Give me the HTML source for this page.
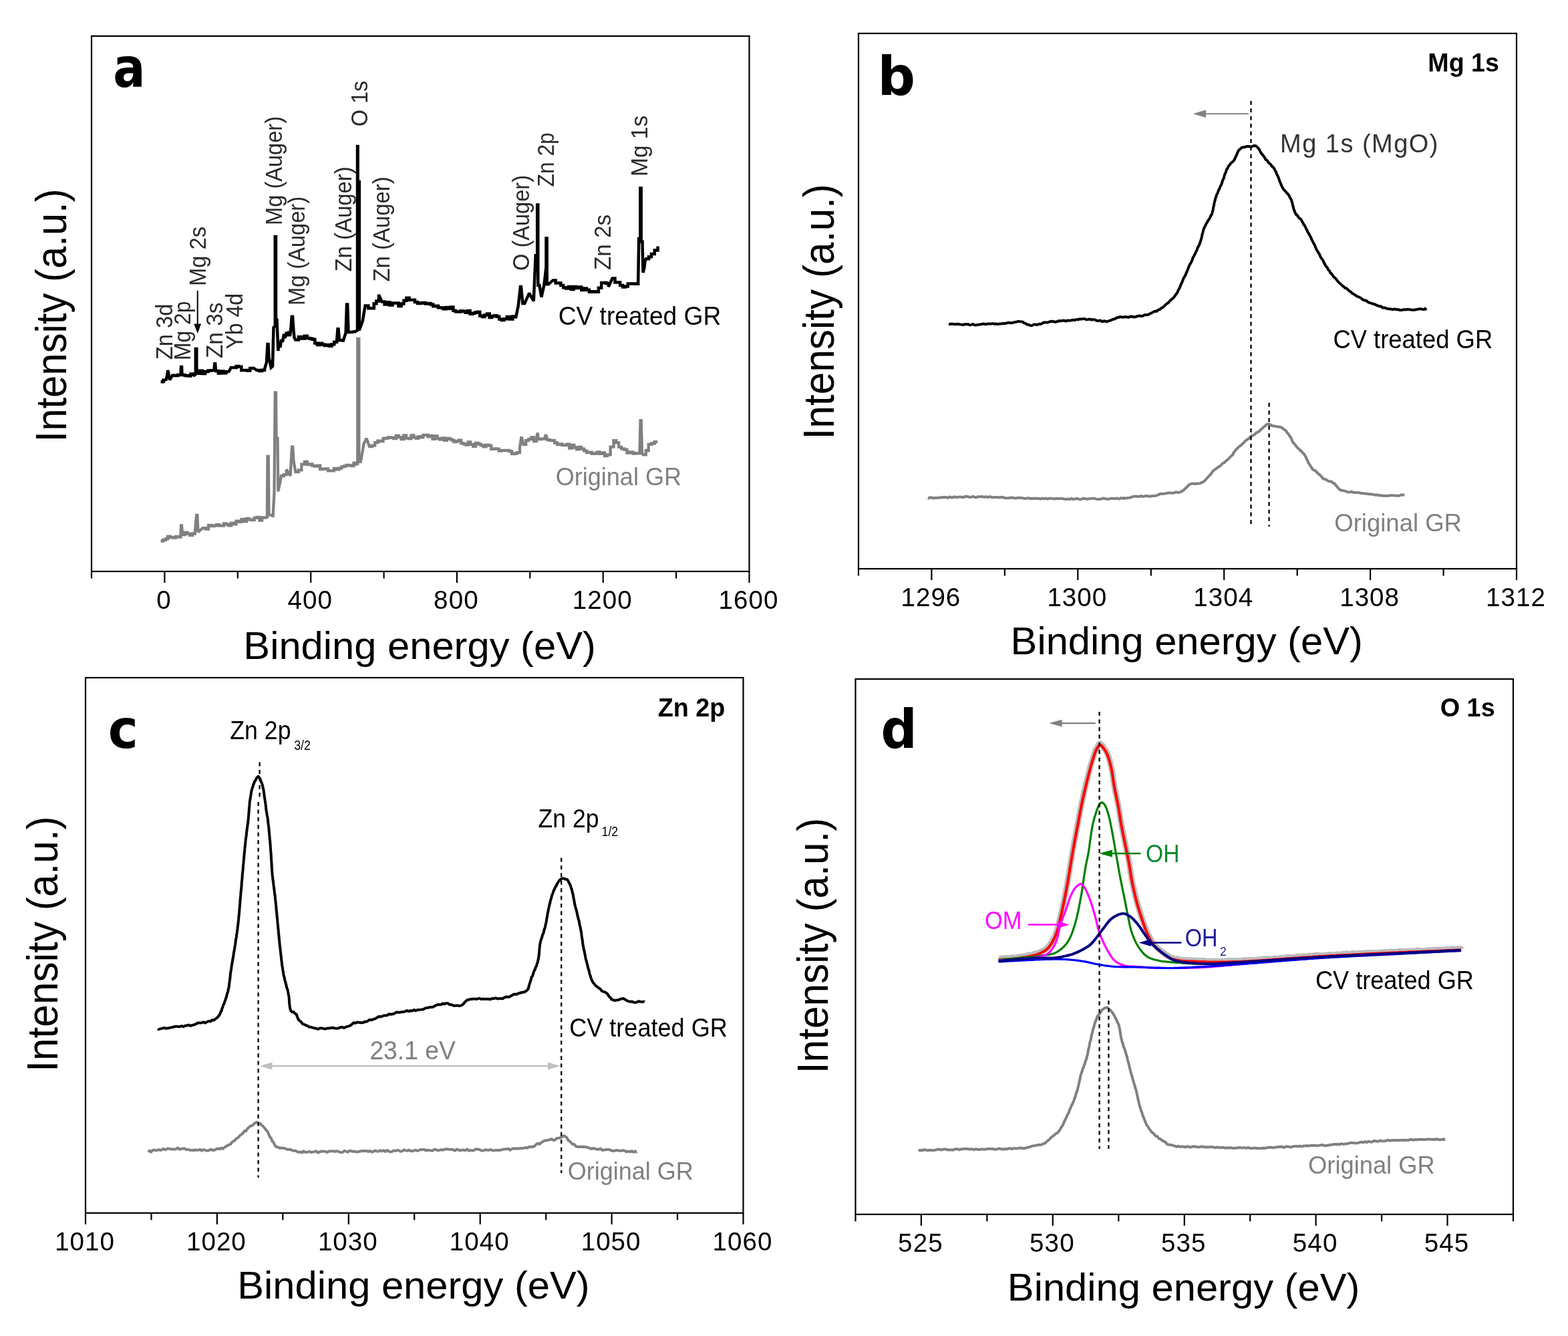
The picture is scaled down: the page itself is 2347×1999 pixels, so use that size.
<!DOCTYPE html>
<html><head><meta charset="utf-8"><title>XPS spectra</title>
<style>html,body{margin:0;padding:0;background:#fff;overflow:hidden;} svg{display:block;} text{font-family:'Liberation Sans', Arial, sans-serif;}</style>
</head><body>
<svg width="2347" height="1999" viewBox="0 0 2347 1999">
<rect width="2347" height="1999" fill="#fff"/>
<rect x="137" y="54" width="984.5" height="801" fill="none" stroke="#000" stroke-width="2.2"/>
<line x1="246.4" y1="855" x2="246.4" y2="872" stroke="#000" stroke-width="2.2" />
<line x1="465.2" y1="855" x2="465.2" y2="872" stroke="#000" stroke-width="2.2" />
<line x1="683.9" y1="855" x2="683.9" y2="872" stroke="#000" stroke-width="2.2" />
<line x1="902.7" y1="855" x2="902.7" y2="872" stroke="#000" stroke-width="2.2" />
<line x1="1121.5" y1="855" x2="1121.5" y2="872" stroke="#000" stroke-width="2.2" />
<line x1="137" y1="855" x2="137" y2="865.5" stroke="#000" stroke-width="2.2" />
<line x1="355.8" y1="855" x2="355.8" y2="865.5" stroke="#000" stroke-width="2.2" />
<line x1="574.6" y1="855" x2="574.6" y2="865.5" stroke="#000" stroke-width="2.2" />
<line x1="793.3" y1="855" x2="793.3" y2="865.5" stroke="#000" stroke-width="2.2" />
<line x1="1012.1" y1="855" x2="1012.1" y2="865.5" stroke="#000" stroke-width="2.2" />
<text x="244.9" y="910.5" font-size="38.6" fill="#000" text-anchor="middle" font-weight="normal" >0</text>
<text x="463.7" y="910.5" font-size="38.6" fill="#000" text-anchor="middle" font-weight="normal" textLength="66.6" lengthAdjust="spacing" >400</text>
<text x="682.4" y="910.5" font-size="38.6" fill="#000" text-anchor="middle" font-weight="normal" textLength="66.6" lengthAdjust="spacing" >800</text>
<text x="901.2" y="910.5" font-size="38.6" fill="#000" text-anchor="middle" font-weight="normal" textLength="88.8" lengthAdjust="spacing" >1200</text>
<text x="1120" y="910.5" font-size="38.6" fill="#000" text-anchor="middle" font-weight="normal" textLength="88.8" lengthAdjust="spacing" >1600</text>
<text x="628.1" y="985.7" font-size="58.2" fill="#000" text-anchor="middle" font-weight="normal" textLength="527.5" lengthAdjust="spacingAndGlyphs" >Binding energy (eV)</text>
<text x="99.5" y="471.9" font-size="64.5" fill="#000" text-anchor="middle" font-weight="normal" transform="rotate(-90 99.5 471.9)" textLength="379" lengthAdjust="spacingAndGlyphs" >Intensity (a.u.)</text>
<text transform="translate(169.2 130.1) scale(0.883 1)" x="0" y="0" font-size="81" font-weight="bold" style="font-family:'DejaVu Sans',sans-serif">a</text>
<polyline points="240.6,571.3 244.4,571.3 244.4,568.7 248.3,568.7 248.3,569.4 250.5,560 251.2,553.9 252.5,560 254.1,568.4 258,561.7 262.2,561.7 262.2,562 266.3,562 266.3,560.9 270.5,560.9 270.5,561.7 271,549.1 272,549.1 272.5,561 276.8,561 276.8,562.1 281.1,562.1 281.1,562.6 285.5,562.6 285.5,559.4 289.8,559.4 289.8,562.6 292.8,560 292.8,522 294.3,522 294.3,558.8 298.6,558.8 298.6,554.7 302.9,554.7 302.9,559 307.2,559 307.2,555.9 311.6,555.9 311.6,554.4 316.1,554.4 316.1,554.3 320.5,554.3 320.5,556 321.2,544.3 322.2,544.3 323,555 326.8,555 326.8,558.5 330.6,558.5 330.6,555.5 334.4,555.5 334.4,558.2 338.2,558.2 338.2,556.3 342,556.3 342,556.8 345.8,550 349.7,550 349.7,549.9 353.6,549.9 353.6,548.1 357.5,548.1 357.5,548.8 361.3,548.8 361.3,554 365.6,554 365.6,553.9 370,553.9 370,554.4 374.3,554.4 374.3,551.1 378.6,551.1 378.6,550 384.4,554 388.3,554 388.3,554.9 392.1,554.9 392.1,553.8 396,553.8 396,552 399,542.4 400.5,515 401.5,515 402.5,535 405.7,550 408,548 409.5,490 411.8,488 411.8,354.1 413,354.1 413,476.7 414.5,478 416.3,525 418,512 419.5,520 421,508 423,511.5 425,500 426.5,506 428.8,497 430.5,503 432,496 434,503 435.5,490 436.8,473.8 438,473.8 439.5,495 440.5,505 442.4,508.6 446.9,508.6 446.9,503.9 451.4,503.9 451.4,506.4 455.9,506.4 455.9,502.8 459.8,502.8 459.8,506 463.6,506 463.6,506.8 467.4,506.8 467.4,507.7 471.3,507.7 471.3,513.4 474.9,513.4 474.9,516 478.5,516 478.5,513.8 482.1,513.8 482.1,515.6 485.6,515.6 485.6,516.9 489.2,516.9 489.2,516.1 492.8,516.1 492.8,517.7 496.4,517.7 496.4,515.3 500.2,515.3 500.2,511.7 504.1,511.7 504.1,509.5 505.5,492.2 506.5,492.2 508,509 513.8,509.5 517.6,498 519,455.5 520.2,455.5 521.5,497 525.4,497 532,496 535,494 535,219 535.6,219 535.6,272 537.8,272 537.8,494 542.7,480.6 546.6,457.4 551.4,457.4 551.4,461.3 556.2,461.3 556.2,461.3 559.8,461.3 559.8,454.2 563.3,454.2 563.3,450.6 566.9,450.6 566.9,441 571.7,451.6 575.6,451.6 575.6,455.6 579.4,455.6 579.4,452.2 583.3,452.2 583.3,456.4 587.6,456.4 587.6,453.6 592,453.6 592,453.6 596.4,453.6 596.4,458 600.7,458 600.7,454.5 604.5,454.5 604.5,449.7 608.4,449.7 608.4,445.8 612.6,445.8 612.6,448.7 616.8,448.7 616.8,448.7 620.9,448.7 620.9,452.1 625.1,452.1 625.1,454.1 629,454.1 629,453.4 632.8,453.4 632.8,453.1 636.6,453.1 636.6,454.6 640.5,454.6 640.5,454.1 644.4,454.1 644.4,455.5 648.2,455.5 648.2,458.3 652.1,458.3 652.1,457.8 656,457.8 656,460.2 659.9,460.2 659.9,460.5 663.7,460.5 663.7,462.2 667.6,462.2 667.6,459.9 671.2,459.9 671.2,461.8 674.8,461.8 674.8,459.4 678.4,459.4 678.4,464.7 681.9,464.7 681.9,466.2 685.5,466.2 685.5,466.6 689.1,466.6 689.1,465.3 692.7,465.3 692.7,465.7 696.3,465.7 696.3,467.7 700,467.7 700,465.1 703.6,465.1 703.6,469.8 707.3,469.8 707.3,468.7 710.9,468.7 710.9,467.5 714.6,467.5 714.6,466.8 718.2,466.8 718.2,472.5 721.9,472.5 721.9,474 725.5,474 725.5,471.5 729.1,471.5 729.1,469.6 732.7,469.6 732.7,474.9 736.3,474.9 736.3,473.1 740,473.1 740,472.2 743.6,472.2 743.6,473.8 747.2,473.8 747.2,477.6 750.8,477.6 750.8,479 754.4,479 754.4,477.3 758.8,477.3 758.8,474.1 763.1,474.1 763.1,477.5 767.4,477.5 767.4,473.6 771.8,473.6 771.8,476.3 775.7,458 779,429 780,429 782.4,454.1 785.3,454.1 792.1,438.7 798.8,450.3 801.7,381.7 804.2,381 804.2,306.4 805.3,306.4 805.3,427.1 807.5,427.1 810.4,444.5 814.3,427.1 817.5,400 817.5,356.6 818.7,356.6 818.7,425.2 821,425.2 827.8,419.4 831.7,419.4 831.7,423.4 835.5,423.4 835.5,423.5 839.4,423.5 839.4,427.1 843.2,427.1 843.2,430.2 847.1,430.2 847.1,431.5 851,431.5 851,429.1 854.8,429.1 854.8,432.9 858.6,432.9 858.6,429.1 862.5,429.1 862.5,431 866.4,431 866.4,429.5 870.3,429.5 870.3,434 874.1,434 874.1,431.5 878,431.5 878,433.7 881.9,433.7 881.9,436.8 886.7,436.8 886.7,436.2 891.5,436.2 891.5,436.8 895.9,436.8 895.9,430.7 900.2,430.7 900.2,423.2 903.7,423.2 903.7,422.9 907.3,422.9 907.3,424.1 910.8,424.1 910.8,429 916.6,416.5 920.5,416.5 920.5,422.4 924.3,422.4 924.3,422.4 928.2,422.4 928.2,427.1 932.1,427.1 932.1,429.5 935.9,429.5 935.9,428.5 939.8,428.5 939.8,424.6 943.6,424.6 943.6,424.6 947.5,424.6 947.5,424.4 951.3,424.4 951.3,424.7 955.2,424.7 955.2,423.2 956.2,357 958.4,357 958.4,281.4 959.7,281.4 959.7,361.5 961.5,361.5 962.5,408 964.5,400 965.5,390 967.2,387.2 971.1,387.2 971.1,384.2 975,384.2 975,380 979.8,380 979.8,374.6 984.6,374.6 984.6,368.5" fill="none" stroke="#000" stroke-width="4.5" stroke-linejoin="miter" stroke-miterlimit="2" stroke-linecap="butt" />
<polyline points="240.6,809.5 244.1,809.5 244.1,808 247.7,808 247.7,806.4 251.2,806.4 251.2,802.7 255.1,802.7 255.1,804.1 258.9,804.1 258.9,804.6 262.8,804.6 262.8,803 266.6,803 266.6,803.7 270.5,803.7 270.5,800.8 271,786.3 272,786.3 273,800 276.8,800 276.8,796.6 280.5,796.6 280.5,798.6 284.3,798.6 284.3,800.9 288,800.9 288,798.5 291.8,798.5 291.8,797 294.2,770.9 295.3,770.9 296.5,796 303.4,790.2 307.7,790.2 307.7,791.6 312,791.6 312,785.9 316.4,785.9 316.4,787.1 320.7,787.1 320.7,786.3 324.2,786.3 324.2,784.8 327.8,784.8 327.8,786.6 331.4,786.6 331.4,786.7 334.9,786.7 334.9,783.4 338.4,783.4 338.4,784.6 342,784.6 342,786.3 345.9,786.3 345.9,782.7 349.7,782.7 349.7,784.3 353.6,784.3 353.6,779.6 357.5,779.6 357.5,780.8 361.3,780.8 361.3,776.8 365.2,776.8 365.2,780.2 369,780.2 369,775.8 372.9,775.8 372.9,777.6 376.8,777.6 376.8,778 380.6,778 380.6,774.8 384.5,774.8 384.5,773.8 388.3,773.8 388.3,778.7 392.2,778.7 392.2,774.5 396,774.5 396,774.3 399.9,774.3 399.9,775.7 400.5,683 401.7,683 402.5,770 408.6,771.9 410.5,737.1 411.8,587.5 413,587.5 413.5,656 415.5,656 416.3,735.2 421.1,712 425,712 425,710.1 428.8,710.1 428.8,702.4 434.6,712 437,668.6 438.2,668.6 439.5,690 442.4,706.2 446.9,706.2 446.9,703.3 451.4,703.3 451.4,694.7 455.9,694.7 455.9,690.8 459.8,690.8 459.8,695.2 463.6,695.2 463.6,694.4 467.4,694.4 467.4,696.9 471.3,696.9 471.3,697.5 475.2,697.5 475.2,696.7 479.1,696.7 479.1,702.1 482.9,702.1 482.9,701.6 486.8,701.6 486.8,701.4 491.1,701.4 491.1,704.4 495.5,704.4 495.5,704.3 499.8,704.3 499.8,700.9 504.1,700.9 504.1,702.4 507.7,702.4 507.7,700.6 511.3,700.6 511.3,698.4 514.9,698.4 514.9,697.3 518.5,697.3 518.5,695.9 522.2,695.9 522.2,696.3 525.8,696.3 525.8,697.2 529.4,697.2 529.4,692.6 533,692.6 533,694.6 535.3,694 535.3,507 537.3,507 537.3,690.8 539.8,690.8 544.7,663.7 548.5,656 553,668 557.1,668 557.1,666.7 561.2,666.7 561.2,662.2 565.4,662.2 565.4,659.7 569.5,659.7 569.5,660.3 573.6,660.3 573.6,656 577.5,656 577.5,655.6 581.3,655.6 581.3,654.3 585.2,654.3 585.2,654.9 589.1,654.9 589.1,656 592.9,656 592.9,651.8 596.8,651.8 596.8,654.1 600.5,654.1 600.5,657 604.3,657 604.3,651.3 608,651.3 608,655.7 611.8,655.7 611.8,656.3 615.5,656.3 615.5,651.4 619.3,651.4 619.3,654.3 622.8,654.3 622.8,655.9 626.4,655.9 626.4,653.2 629.9,653.2 629.9,654.3 633.4,654.3 633.4,650.8 637,650.8 637,650.8 640.5,650.8 640.5,653.4 644,653.4 644,651.8 647.6,651.8 647.6,656.8 651.1,656.8 651.1,652.5 654.7,652.5 654.7,656.2 658.2,656.2 658.2,657.6 661.8,657.6 661.8,655.3 665.3,655.3 665.3,658.8 668.9,658.8 668.9,656 672.4,656 672.4,656.8 675.9,656.8 675.9,658.6 679.5,658.6 679.5,661 683,661 683,660.1 686.5,660.1 686.5,658.6 690.1,658.6 690.1,663.2 693.6,663.2 693.6,664.3 697.1,664.3 697.1,665.5 700.7,665.5 700.7,661.4 704.2,661.4 704.2,665 708.1,665 708.1,667.8 711.9,667.8 711.9,662.8 715.8,662.8 715.8,664.5 719.7,664.5 719.7,666.3 723.5,666.3 723.5,668.3 727.4,668.3 727.4,665.9 731.3,665.9 731.3,666.7 735.1,666.7 735.1,671.9 739,671.9 739,671.4 742.8,671.4 742.8,671.7 746.7,671.7 746.7,674.6 750.6,674.6 750.6,674.2 754.4,674.2 754.4,674 758.3,674 758.3,674 762.2,674 762.2,675.1 766,675.1 766,679 769.9,679 769.9,678.5 774,678.5 774,677.2 778,677.2 778,670 780.5,653.4 783.4,665 787.2,665 787.2,659.1 791.1,659.1 791.1,657.2 795.1,657.2 795.1,654.4 799,654.4 799,660 803,660 803,657 804.6,647.6 806,657 810.5,657 810.5,656.7 815,656.7 815,656 817.2,650.3 819,658 822.7,658 822.7,658.8 826.4,658.8 826.4,659.1 830.1,659.1 830.1,662.5 833.9,662.5 833.9,665.2 837.6,665.2 837.6,664.3 841.3,664.3 841.3,665.9 844.9,665.9 844.9,666.2 848.5,666.2 848.5,664.7 852.2,664.7 852.2,670.6 855.8,670.6 855.8,666 859.4,666 859.4,669.5 863,669.5 863,672.3 866.7,672.3 866.7,668.8 870.3,668.8 870.3,671.7 874.2,671.7 874.2,674.4 878,674.4 878,677.1 881.9,677.1 881.9,676.6 885.7,676.6 885.7,678.9 889.6,678.9 889.6,678.5 893.5,678.5 893.5,676.5 897.3,676.5 897.3,678.9 901.2,678.9 901.2,677.5 905,677.5 905,682.1 908.9,682.1 908.9,680.4 913.7,680.4 913.7,668.6 918.5,668.6 918.5,659.2 922.4,659.2 922.4,662.3 926.2,662.3 926.2,668.9 930.1,668.9 930.1,671.4 934,671.4 934,672.7 938.5,672.7 938.5,677.5 943,677.5 943,676.3 947.5,676.3 947.5,678.5 952.5,678.5 952.5,678.2 957.5,678.2 957.5,678 958.6,629.2 959.7,629.2 961,679 962.9,680.4 966.8,680.4 966.8,674 970.7,674 970.7,664.9 975.2,664.9 975.2,663.5 979.7,663.5 979.7,661.1 984.2,661.1 984.2,661.1" fill="none" stroke="#808080" stroke-width="4.3" stroke-linejoin="miter" stroke-miterlimit="2" stroke-linecap="butt" />
<text x="835.7" y="486.1" font-size="39" fill="#000" text-anchor="start" font-weight="normal" textLength="243.6" lengthAdjust="spacingAndGlyphs" >CV treated GR</text>
<text x="831.7" y="725.8" font-size="37.4" fill="#808080" text-anchor="start" font-weight="normal" textLength="188.3" lengthAdjust="spacingAndGlyphs" >Original GR</text>
<text x="258.3" y="538.2" font-size="34.7" fill="#2a2a2a" text-anchor="start" font-weight="normal" transform="rotate(-90 258.3 538.2)" textLength="83.6" lengthAdjust="spacingAndGlyphs" >Zn 3d</text>
<text x="285.5" y="538.9" font-size="34.7" fill="#2a2a2a" text-anchor="start" font-weight="normal" transform="rotate(-90 285.5 538.9)" textLength="88.4" lengthAdjust="spacingAndGlyphs" >Mg 2p</text>
<text x="307.9" y="428" font-size="34.7" fill="#2a2a2a" text-anchor="start" font-weight="normal" transform="rotate(-90 307.9 428)" textLength="89" lengthAdjust="spacingAndGlyphs" >Mg 2s</text>
<text x="333" y="536.1" font-size="34.7" fill="#2a2a2a" text-anchor="start" font-weight="normal" transform="rotate(-90 333 536.1)" textLength="83.6" lengthAdjust="spacingAndGlyphs" >Zn 3s</text>
<text x="363" y="522.6" font-size="34.7" fill="#2a2a2a" text-anchor="start" font-weight="normal" transform="rotate(-90 363 522.6)" textLength="83.6" lengthAdjust="spacingAndGlyphs" >Yb 4d</text>
<text x="421.7" y="336.9" font-size="34.7" fill="#2a2a2a" text-anchor="start" font-weight="normal" transform="rotate(-90 421.7 336.9)" textLength="163" lengthAdjust="spacingAndGlyphs" >Mg (Auger)</text>
<text x="455.5" y="457" font-size="34.7" fill="#2a2a2a" text-anchor="start" font-weight="normal" transform="rotate(-90 455.5 457)" textLength="163" lengthAdjust="spacingAndGlyphs" >Mg (Auger)</text>
<text x="526" y="406.5" font-size="34.7" fill="#2a2a2a" text-anchor="start" font-weight="normal" transform="rotate(-90 526 406.5)" textLength="157.3" lengthAdjust="spacingAndGlyphs" >Zn (Auger)</text>
<text x="583" y="421.6" font-size="34.7" fill="#2a2a2a" text-anchor="start" font-weight="normal" transform="rotate(-90 583 421.6)" textLength="157.3" lengthAdjust="spacingAndGlyphs" >Zn (Auger)</text>
<text x="550.5" y="189.2" font-size="34.7" fill="#2a2a2a" text-anchor="start" font-weight="normal" transform="rotate(-90 550.5 189.2)" textLength="68.5" lengthAdjust="spacingAndGlyphs" >O 1s</text>
<text x="792.1" y="404.9" font-size="34.7" fill="#2a2a2a" text-anchor="start" font-weight="normal" transform="rotate(-90 792.1 404.9)" textLength="142.9" lengthAdjust="spacingAndGlyphs" >O (Auger)</text>
<text x="828.8" y="279.4" font-size="34.7" fill="#2a2a2a" text-anchor="start" font-weight="normal" transform="rotate(-90 828.8 279.4)" textLength="81.1" lengthAdjust="spacingAndGlyphs" >Zn 2p</text>
<text x="913.7" y="403.9" font-size="34.7" fill="#2a2a2a" text-anchor="start" font-weight="normal" transform="rotate(-90 913.7 403.9)" textLength="83" lengthAdjust="spacingAndGlyphs" >Zn 2s</text>
<text x="968.7" y="264" font-size="34.7" fill="#2a2a2a" text-anchor="start" font-weight="normal" transform="rotate(-90 968.7 264)" textLength="91.2" lengthAdjust="spacingAndGlyphs" >Mg 1s</text>
<line x1="295.7" y1="434.9" x2="295.7" y2="490" stroke="#000" stroke-width="2" />
<polygon points="290.3,484.5 301.1,484.5 295.7,499" fill="#000"/>
<rect x="1285" y="50" width="985" height="801" fill="none" stroke="#000" stroke-width="2.2"/>
<line x1="1394.4" y1="851" x2="1394.4" y2="868" stroke="#000" stroke-width="2.2" />
<line x1="1613.3" y1="851" x2="1613.3" y2="868" stroke="#000" stroke-width="2.2" />
<line x1="1832.2" y1="851" x2="1832.2" y2="868" stroke="#000" stroke-width="2.2" />
<line x1="2051.1" y1="851" x2="2051.1" y2="868" stroke="#000" stroke-width="2.2" />
<line x1="2270" y1="851" x2="2270" y2="868" stroke="#000" stroke-width="2.2" />
<line x1="1285" y1="851" x2="1285" y2="861.5" stroke="#000" stroke-width="2.2" />
<line x1="1503.9" y1="851" x2="1503.9" y2="861.5" stroke="#000" stroke-width="2.2" />
<line x1="1722.8" y1="851" x2="1722.8" y2="861.5" stroke="#000" stroke-width="2.2" />
<line x1="1941.7" y1="851" x2="1941.7" y2="861.5" stroke="#000" stroke-width="2.2" />
<line x1="2160.6" y1="851" x2="2160.6" y2="861.5" stroke="#000" stroke-width="2.2" />
<text x="1392.9" y="906.5" font-size="38.6" fill="#000" text-anchor="middle" font-weight="normal" textLength="88.8" lengthAdjust="spacing" >1296</text>
<text x="1611.8" y="906.5" font-size="38.6" fill="#000" text-anchor="middle" font-weight="normal" textLength="88.8" lengthAdjust="spacing" >1300</text>
<text x="1830.7" y="906.5" font-size="38.6" fill="#000" text-anchor="middle" font-weight="normal" textLength="88.8" lengthAdjust="spacing" >1304</text>
<text x="2049.6" y="906.5" font-size="38.6" fill="#000" text-anchor="middle" font-weight="normal" textLength="88.8" lengthAdjust="spacing" >1308</text>
<text x="2268.5" y="906.5" font-size="38.6" fill="#000" text-anchor="middle" font-weight="normal" textLength="88.8" lengthAdjust="spacing" >1312</text>
<text x="1776.2" y="978.8" font-size="58.2" fill="#000" text-anchor="middle" font-weight="normal" textLength="527.2" lengthAdjust="spacingAndGlyphs" >Binding energy (eV)</text>
<text x="1248.3" y="466.3" font-size="64.5" fill="#000" text-anchor="middle" font-weight="normal" transform="rotate(-90 1248.3 466.3)" textLength="382.2" lengthAdjust="spacingAndGlyphs" >Intensity (a.u.)</text>
<text transform="translate(1313.5 141.7) scale(0.976 1)" x="0" y="0" font-size="81" font-weight="bold" style="font-family:'DejaVu Sans',sans-serif">b</text>
<text x="2244" y="107.4" font-size="38" fill="#000" text-anchor="end" font-weight="bold" textLength="106.7" lengthAdjust="spacingAndGlyphs" >Mg 1s</text>
<polyline points="1420.2,484.2 1420.7,484.4 1422.2,485.2 1424.3,484.6 1427.1,484.9 1430.2,485.3 1433.6,484.8 1437,485.5 1440.3,485.8 1442.2,486.1 1444.3,485 1446.5,485.4 1448.8,485 1451.2,486.2 1453.7,486 1456.3,484.9 1459,486.4 1461.6,486.3 1464.4,485.7 1467.1,485.6 1469.9,484.8 1472.7,484.5 1475.5,485.3 1478.2,484.4 1481,484.6 1483.6,484.6 1486.3,484.1 1488.8,484.7 1491.3,484.6 1493.7,485.1 1495.9,484.5 1498.1,484.5 1501.2,484.1 1504.2,484 1507.2,483.3 1510,482.6 1512.8,483.3 1515.5,482.9 1518.1,482.3 1520.7,481.8 1523.1,481.1 1525.4,480.9 1527.7,481.2 1530.4,481.4 1532.9,483.4 1535.2,483.9 1537.4,485.7 1539.8,485.8 1542.5,487.2 1544.8,487.1 1547.2,485.6 1549.7,485.5 1552.3,486.1 1555,484.8 1557.7,485 1560.5,483.4 1563.2,482.3 1566,482.6 1568.7,482.4 1571.3,481.3 1574,480.8 1576.6,481 1579.3,481.8 1582,481.3 1584.7,480.1 1587.5,480.2 1590.2,479.8 1592.9,479.6 1595.5,480.6 1598.2,479.4 1600.8,479.8 1603.3,479.3 1605.8,478.6 1608.3,479.2 1610.8,477.9 1613.3,478.4 1615.8,477.3 1618.3,477.6 1620.9,477.1 1623.5,477.1 1626.1,478.2 1628.6,478 1631.1,477.4 1633.8,478.6 1636.4,477.9 1639.1,478.7 1641.8,479.9 1644.5,480 1647.1,479.5 1649.7,481.3 1652.2,480.3 1654.6,480.5 1656.9,481.3 1659,480.4 1661.7,479.8 1664.1,478.6 1666.4,477.6 1668.7,477.3 1670.9,475.6 1673.1,475.3 1675.4,474.3 1678.1,474.1 1680.8,474.8 1683.6,474.1 1686.3,474.3 1689.1,474.9 1691.8,473.7 1694.5,473.5 1697.3,474.5 1700,474.1 1702.8,472.9 1705.5,472.5 1708.2,472.9 1710.9,472.7 1713.6,470.9 1716.3,471.4 1718.9,470.6 1721.5,469.3 1724.1,468.1 1726.6,466.6 1729,465.5 1731.4,465.9 1733.7,463.6 1736.1,463 1738.6,460.6 1740.5,460.1 1742.5,458.2 1744.6,456.1 1746.7,454.1 1748.8,453.1 1750.9,450.2 1753,448.4 1755,446.9 1756.9,445.2 1758.7,442.7 1760.3,440 1761.7,439 1763,435.7 1764.2,433.1 1765.4,431.2 1766.4,429.2 1767.4,426.2 1768.4,424.1 1769.4,422 1770.3,419.9 1771.3,416.9 1772.4,414.9 1773.5,413.3 1774.6,411.1 1775.7,408.2 1776.8,405.8 1777.9,403.2 1779,400.1 1780.1,397.5 1781.2,395.1 1782.3,394.1 1783.4,391.3 1784.5,389.3 1785.6,385.4 1786.8,384 1787.9,381.3 1789.1,379.2 1790.3,376.1 1791.4,374.8 1792.5,370.8 1793.6,369.2 1794.6,367.1 1795.6,365 1796.5,362.4 1797.3,359.8 1798,357.5 1798.7,355.2 1799.2,351.9 1799.8,350 1800.4,348 1801,345.5 1801.7,342.5 1802.6,340.8 1803.8,338.4 1805.1,335.5 1806.5,333.2 1808,330.5 1809.5,328.5 1810.9,326.2 1812.3,322.9 1813.4,321.2 1814.3,319.3 1815,316.5 1815.7,313.6 1816.2,310.4 1816.8,308.2 1817.3,305.2 1817.9,302.3 1818.6,300.2 1819.4,296.2 1820.2,294.9 1821.1,291.3 1822.1,289.7 1823.1,287.1 1824.2,284.2 1825.3,282.5 1826.3,279.7 1827.4,277.5 1828.4,275.6 1829.4,272.2 1830.3,269.5 1831.3,267.4 1832.1,265.4 1832.9,262.1 1833.7,259.6 1834.6,258.3 1835.4,255.6 1836.4,253 1837.5,251.6 1838.9,248.5 1840.5,247 1842.2,244.4 1843.9,242.9 1845.6,241.5 1847.2,239.6 1848.5,237.3 1849.8,234.1 1851,231.8 1852.2,228.7 1853.5,225.9 1854.8,224.2 1856.4,222.8 1858.1,221.4 1860.5,220.2 1863.1,220.2 1866,219.1 1868.8,219 1871.5,219.6 1873.7,219.2 1876.9,218.1 1879.8,218.3 1881.3,219.6 1882.9,221.1 1884.5,223 1886.2,226.4 1887.9,229.4 1889.6,231.4 1891.3,233.4 1893,235.8 1894.8,239.2 1896.6,239.9 1898.5,243 1900.4,244.8 1902.3,246.4 1904.1,249.3 1905.9,250.2 1907.5,252.8 1908.8,255.5 1910,257.1 1911.1,260.8 1912.2,262.4 1913.2,264.8 1914.2,267.2 1915.2,270.7 1916.3,273 1917.3,275.7 1918.4,278.1 1919.6,280.5 1921.1,283.1 1922.6,284.8 1924.2,286.1 1925.9,288.5 1927.5,290 1929,291.8 1930.4,294.6 1931.7,297.2 1932.7,298.7 1933.6,301.2 1934.3,303.9 1935,307 1935.7,309.3 1936.3,312 1937.1,314.6 1937.9,316.3 1938.9,319.1 1940.3,321.5 1941.9,322.2 1943.6,325.3 1945.3,326.8 1947,327.8 1948.6,330.5 1950,332.9 1951.3,335.6 1952.6,337.1 1954,339.8 1955.3,342.8 1956.6,345.2 1958,348 1959.3,349.8 1960.6,352.6 1961.8,354.3 1963,357.5 1964.2,360 1965.3,362.1 1966.5,364.6 1967.7,366.2 1968.9,369.7 1970.1,372.3 1971.4,374.8 1972.7,376.6 1973.9,379.1 1975.1,380.6 1976.3,383.9 1977.6,386.1 1978.9,387.6 1980.2,389.5 1981.5,392.4 1982.9,394.9 1984.2,397.5 1985.6,399.3 1986.9,400.7 1988.3,404 1989.6,404.7 1991.3,408.3 1993,409.5 1994.7,411.9 1996.4,414.7 1998.1,415.6 2000,417.6 2001.9,420.2 2004.1,422.7 2005.8,424.4 2007.5,425.7 2009.4,427.8 2011.3,428.7 2013.2,431 2015.3,431.2 2017.3,433.1 2019.5,435.2 2021.6,436.4 2023.8,438.6 2026.1,440 2028.4,441.3 2030.7,443.2 2033,444.1 2035.2,444.9 2037.4,446.2 2039.8,448.2 2042.2,449.5 2044.7,449.6 2047.2,451.7 2049.7,453.1 2052.2,453.5 2054.8,454.6 2057.3,455 2059.9,456.5 2062.4,457.4 2064.8,458.4 2067.2,458.3 2069.6,460.5 2071.8,460.4 2074,460.8 2076.9,462.1 2079.6,462.3 2082.3,462.5 2084.8,463.1 2087.4,462.3 2090,463.2 2092.6,463.1 2095.3,464 2098.2,464.1 2100.7,463.1 2103.6,463.4 2106.8,462.8 2110.1,463.2 2113.6,463.7 2117,463.7 2120.4,462.9 2123.6,462.5 2126.5,462.1 2129.1,462.7 2131.3,463.1 2133,461.7 2134,462.7 2134.4,461.4" fill="none" stroke="#000" stroke-width="4" stroke-linejoin="round" stroke-linecap="butt" />
<polyline points="1389.3,745.2 1389.5,745.4 1390,745.4 1390.8,744.6 1391.9,744.3 1393.3,744.8 1394.9,744.6 1396.8,745.4 1398.9,745.1 1401.3,744.9 1403.8,744.8 1406.4,744.8 1409.2,743.9 1412.2,744.3 1415.3,743.8 1418.4,744.9 1421.7,743.4 1425,744.5 1428.3,743.3 1431.7,744.2 1435.1,743.5 1438.4,743.6 1441.7,744.2 1445,742.8 1448.2,742.9 1451.4,744.2 1454.4,743.5 1457.3,742.8 1459.5,744.3 1461.8,744.2 1464,742.9 1466.3,743.4 1468.6,743 1471,743.3 1473.3,743.9 1475.7,743.2 1478.1,744.1 1480.6,743.1 1483,743.4 1485.5,744.4 1488,743.9 1490.5,744 1493,744.3 1495.5,744.2 1498,744.1 1500.6,743.7 1503.1,744.8 1505.7,745.3 1508.3,745.4 1510.9,745 1513.5,744.6 1516.1,744.7 1518.7,745.3 1521.3,745.4 1524,744.6 1526.6,744.9 1529.2,745.1 1531.8,745.5 1534.5,746 1537.1,745.6 1539.7,744.9 1542.3,746.3 1544.9,745.7 1547.6,745.9 1550.2,745.5 1552.8,745.9 1555.4,745.9 1557.9,746.6 1560.5,745.5 1563.1,746.3 1565.6,745.7 1568.2,746.6 1570.7,745.6 1573.2,746 1575.8,746.1 1578.5,746.6 1581.1,745.7 1583.9,746.3 1586.6,745.9 1589.4,746.1 1592.2,746.4 1595,747.2 1597.9,746.4 1600.7,747.2 1603.6,745.9 1606.5,747.2 1609.4,746.3 1612.3,746 1615.2,746.9 1618.1,747.2 1621,745.7 1623.8,746.1 1626.7,746.9 1629.6,746.2 1632.4,746 1635.2,745.7 1638,745.7 1640.7,746.6 1643.4,747.1 1646.1,747.1 1648.7,746.3 1651.3,745.5 1653.9,746 1656.4,746.7 1658.8,746.7 1661.2,746.3 1663.5,745.6 1665.7,746 1667.9,745.9 1670,746.1 1672.1,745.4 1674.1,746.5 1675.9,746.3 1677.7,745 1679.4,745.2 1681.1,746 1682.6,744.9 1684,745.9 1687.6,744.9 1690.5,744.7 1693.1,744.3 1695.4,743.1 1697.7,742.8 1700,742.5 1702.8,743 1705.5,742.9 1708.1,742 1710.9,743.1 1713.3,742.3 1715.8,742 1718.4,742.2 1721,743 1723.6,742.2 1726.1,742 1728.7,742 1731.1,741.4 1733.6,740.4 1736.2,739.1 1739.1,738.7 1741.3,738.9 1743.7,738.5 1746.3,738 1749,737.5 1751.8,737.4 1754.6,737.8 1757.4,737.4 1760.1,736.2 1762.7,736.9 1765.1,736.7 1767.3,735.8 1769.8,734.7 1772.1,733.1 1774.2,730.7 1776.2,729.3 1778.2,726.9 1780.3,724.9 1782.5,724.2 1785.2,723.4 1788,724.1 1790.9,723.7 1793.7,723.4 1796.4,723.2 1798.8,721.7 1801,721.1 1803,719.7 1804.9,717.4 1806.7,715.2 1808.6,713.5 1810.4,711.4 1812.2,709.9 1814,706.9 1815.8,704.8 1817.6,703.1 1819.5,701.9 1821.6,700.3 1823.7,698.7 1825.9,697.8 1828.1,695.4 1830.3,693.2 1832.2,692.4 1834.2,690.7 1836.2,688.6 1838.1,687.6 1840,685.3 1841.8,683.4 1843.4,681.8 1845.1,680.7 1846.5,677.1 1848,675.5 1849.9,673 1851.4,671.4 1853.1,670 1855,667.8 1857,667 1859.1,664.4 1861.3,662.8 1863.5,660 1865.6,658.6 1867.7,657.1 1869.7,655.8 1871.6,653.4 1873.9,652 1876.1,651.2 1878.3,649.8 1880.4,647.6 1882.5,646.7 1884.6,645.6 1886.9,643.1 1889.1,641.3 1891.4,639 1893.6,637.4 1895.7,635.2 1897.7,634.6 1900.9,634.9 1904.2,637.3 1906.4,637.2 1908.9,637.9 1911.7,638.2 1914.4,638.7 1917,639.2 1919.4,640.4 1921.5,642.3 1923.5,643.5 1925.3,645 1927,648.2 1928.7,649.4 1930.2,652.4 1931.7,654.1 1932.9,656.1 1934,659.3 1935.2,661.8 1936.8,663.3 1938.4,665 1940.2,667.7 1942.1,670 1944.2,671.6 1946.3,674 1948.3,675.4 1950.3,677.9 1952,679.5 1953.5,682.1 1954.9,684.6 1956.2,687.2 1957.4,689.8 1958.6,693.1 1959.9,694.5 1961.3,696.9 1962.8,699.1 1964.9,702.4 1967.2,703.7 1969.6,704.7 1971.9,707.7 1974,709.3 1975.8,710.8 1977.9,713 1980.2,716.2 1982.2,716.7 1984.7,717.4 1987.4,719.5 1990.2,720.4 1993,720.5 1995.4,722.9 1997.3,723.2 1999,725.5 2000.5,727 2002.2,729.3 2004,731.1 2006.3,733.4 2008.2,733.6 2010.3,734.1 2012.6,734.6 2015.1,735.2 2017.7,736.5 2020.3,736.3 2023.1,735.7 2025.8,736.9 2028.6,736.8 2031.4,736.9 2034.1,737.2 2036.7,737.7 2039.2,738.3 2041.6,738.2 2044.1,738.7 2046.6,738.8 2049.1,739.4 2051.6,739.3 2054.1,739.7 2056.6,740.1 2059.1,740.7 2061.6,740.3 2064.2,741.5 2066.7,741 2069.2,741.8 2071.9,741.6 2074.9,742.1 2078.2,741.7 2081.5,741.3 2084.9,741.3 2088.2,741.6 2091.4,741.8 2094.4,741.8 2097,740.6 2099.2,740.5 2100.8,740.5 2101.9,740.4 2102.3,740.4" fill="none" stroke="#808080" stroke-width="4" stroke-linejoin="round" stroke-linecap="butt" />
<line x1="1872.5" y1="150.9" x2="1872.5" y2="787.7" stroke="#000" stroke-width="2.3" stroke-dasharray="6,5.4"/>
<line x1="1899.6" y1="602.8" x2="1899.6" y2="787.7" stroke="#000" stroke-width="2.3" stroke-dasharray="6,5.4"/>
<line x1="1800" y1="170.2" x2="1868.9" y2="170.2" stroke="#808080" stroke-width="2" />
<polygon points="1785.7,170.2 1805,164.5 1805,175.9" fill="#808080"/>
<text x="1916" y="228" font-size="38" fill="#333" text-anchor="start" font-weight="normal" textLength="236.5" lengthAdjust="spacing" >Mg 1s (MgO)</text>
<text x="1995.4" y="520.5" font-size="39" fill="#000" text-anchor="start" font-weight="normal" textLength="238.8" lengthAdjust="spacingAndGlyphs" >CV treated GR</text>
<text x="1997.3" y="794.5" font-size="37.4" fill="#808080" text-anchor="start" font-weight="normal" textLength="190.7" lengthAdjust="spacingAndGlyphs" >Original GR</text>
<rect x="128" y="1014" width="984.5" height="801" fill="none" stroke="#000" stroke-width="2.2"/>
<line x1="128" y1="1815" x2="128" y2="1832" stroke="#000" stroke-width="2.2" />
<line x1="324.9" y1="1815" x2="324.9" y2="1832" stroke="#000" stroke-width="2.2" />
<line x1="521.8" y1="1815" x2="521.8" y2="1832" stroke="#000" stroke-width="2.2" />
<line x1="718.7" y1="1815" x2="718.7" y2="1832" stroke="#000" stroke-width="2.2" />
<line x1="915.6" y1="1815" x2="915.6" y2="1832" stroke="#000" stroke-width="2.2" />
<line x1="1112.5" y1="1815" x2="1112.5" y2="1832" stroke="#000" stroke-width="2.2" />
<line x1="226.5" y1="1815" x2="226.5" y2="1825.5" stroke="#000" stroke-width="2.2" />
<line x1="423.3" y1="1815" x2="423.3" y2="1825.5" stroke="#000" stroke-width="2.2" />
<line x1="620.2" y1="1815" x2="620.2" y2="1825.5" stroke="#000" stroke-width="2.2" />
<line x1="817.2" y1="1815" x2="817.2" y2="1825.5" stroke="#000" stroke-width="2.2" />
<line x1="1014" y1="1815" x2="1014" y2="1825.5" stroke="#000" stroke-width="2.2" />
<text x="126.5" y="1870.5" font-size="38.6" fill="#000" text-anchor="middle" font-weight="normal" textLength="88.8" lengthAdjust="spacing" >1010</text>
<text x="323.4" y="1870.5" font-size="38.6" fill="#000" text-anchor="middle" font-weight="normal" textLength="88.8" lengthAdjust="spacing" >1020</text>
<text x="520.3" y="1870.5" font-size="38.6" fill="#000" text-anchor="middle" font-weight="normal" textLength="88.8" lengthAdjust="spacing" >1030</text>
<text x="717.2" y="1870.5" font-size="38.6" fill="#000" text-anchor="middle" font-weight="normal" textLength="88.8" lengthAdjust="spacing" >1040</text>
<text x="914.1" y="1870.5" font-size="38.6" fill="#000" text-anchor="middle" font-weight="normal" textLength="88.8" lengthAdjust="spacing" >1050</text>
<text x="1111" y="1870.5" font-size="38.6" fill="#000" text-anchor="middle" font-weight="normal" textLength="88.8" lengthAdjust="spacing" >1060</text>
<text x="619" y="1943.3" font-size="58.2" fill="#000" text-anchor="middle" font-weight="normal" textLength="527.5" lengthAdjust="spacingAndGlyphs" >Binding energy (eV)</text>
<text x="86" y="1412.5" font-size="64.5" fill="#000" text-anchor="middle" font-weight="normal" transform="rotate(-90 86 1412.5)" textLength="382.6" lengthAdjust="spacingAndGlyphs" >Intensity (a.u.)</text>
<text transform="translate(161.8 1119.4) scale(0.94 1)" x="0" y="0" font-size="81" font-weight="bold" style="font-family:'DejaVu Sans',sans-serif">c</text>
<text x="1085.4" y="1071.6" font-size="38" fill="#000" text-anchor="end" font-weight="bold" textLength="100.7" lengthAdjust="spacingAndGlyphs" >Zn 2p</text>
<polyline points="236.7,1539 237.4,1540 239.3,1539.6 242.1,1538.9 245.4,1538 249,1538.7 252.5,1538.3 255.7,1537.3 258.2,1537 260.9,1536.3 263.6,1535.6 266.3,1536.1 269.1,1536.3 271.8,1535 274.5,1536.2 277,1534.8 279.5,1534.5 282.4,1533.6 285.2,1534.9 287.9,1533.8 290.6,1533.4 293.3,1532.2 296.1,1530.5 298.8,1530.6 301.6,1530.5 304.5,1529.3 307.3,1530.6 310.1,1528.9 312.7,1527.9 315.2,1528.4 317.9,1526 320.5,1526.4 322.9,1524.1 325.1,1522.7 327.1,1520.4 328.5,1518.8 329.7,1516 330.7,1513.4 331.6,1512.5 332.4,1508.7 333.3,1507.2 334.2,1503.4 335,1502.7 335.9,1500.3 336.7,1497.8 337.6,1495.5 338.4,1492.8 339.2,1490.7 339.9,1487 340.6,1485.2 341.3,1483.3 341.8,1479.7 342.3,1478.8 342.7,1476.3 343.1,1472.8 343.4,1470.1 343.8,1467.7 344.1,1465 344.4,1463.5 344.7,1459.7 345,1456.3 345.4,1453.7 345.7,1452.4 346.1,1450.3 346.5,1446.8 346.9,1444.2 347.3,1441.8 347.7,1439.7 348.2,1436.1 348.6,1434.3 349.1,1431.6 349.5,1429.2 349.9,1425.8 350.4,1423.2 350.8,1421 351.2,1419.6 351.6,1415.8 352,1413.8 352.4,1410.7 352.8,1407.7 353.1,1405.1 353.5,1404.1 353.9,1401.5 354.2,1398.2 354.6,1396.3 354.9,1393.7 355.2,1391.6 355.6,1389.2 355.9,1385.5 356.2,1384.1 356.5,1381.4 356.8,1378.1 357.1,1376.2 357.3,1373 357.6,1370.2 357.8,1367.5 358,1366.2 358.3,1362.3 358.5,1359.5 358.7,1358.5 358.9,1355.9 359.1,1352.7 359.3,1350.9 359.5,1346.8 359.8,1344.6 360,1342.2 360.2,1339.9 360.4,1336.8 360.6,1334.1 360.8,1332.1 361.1,1330.7 361.3,1328.3 361.5,1325.3 361.7,1322.2 361.9,1319.2 362.1,1318.1 362.4,1314.7 362.6,1312.6 362.8,1308.6 363,1306.5 363.2,1305.2 363.5,1302.6 363.7,1300.3 363.9,1297.2 364.1,1294.3 364.4,1292 364.6,1290 364.8,1286.3 365.1,1284.2 365.3,1281.1 365.5,1279.5 365.8,1275.5 366,1274.3 366.2,1272.3 366.5,1267.9 366.7,1266.6 367,1264.2 367.2,1262.1 367.5,1259.2 367.8,1255.9 368.1,1253.7 368.4,1252.2 368.8,1249.6 369.1,1245.5 369.4,1242.9 369.8,1240.4 370.1,1237.8 370.4,1236.2 370.7,1233.1 371,1232.1 371.3,1229.3 371.6,1225.8 371.9,1223.8 372.1,1220.6 372.3,1218.1 372.6,1214.7 372.8,1211.8 372.9,1209 373.2,1206.7 373.4,1204.7 373.6,1201.8 373.9,1198.3 374.2,1197.2 374.7,1194.4 375.2,1191.2 375.7,1188.3 376.3,1184 376.9,1182.2 377.6,1178.8 378.4,1177.6 379.2,1173.9 380,1172.6 381,1169.5 382,1168.4 384.2,1164 386.5,1161.6 387.9,1163.3 389.4,1165.4 390.8,1169.7 392,1171.7 392.7,1174.2 393.3,1176.6 393.8,1179.9 394.3,1180.8 394.8,1184.6 395.2,1187.2 395.6,1190.4 396,1193.6 396.3,1194.8 396.7,1198 397.1,1200.5 397.5,1203.3 397.8,1205 398.1,1209.1 398.4,1212 398.8,1213.4 399.2,1216.1 399.7,1220.2 400.1,1221.3 400.6,1224 401,1226.9 401.4,1231.3 401.7,1233.7 402,1235.7 402.3,1238.6 402.5,1240.1 402.8,1244 403,1246.3 403.3,1249.2 403.5,1251.7 403.7,1254.2 403.9,1256.3 404.2,1258.4 404.4,1261.8 404.6,1263.9 404.8,1267.4 405,1270.3 405.2,1272.7 405.4,1274.8 405.6,1277 405.8,1279.8 405.9,1282.6 406.1,1285.5 406.2,1288.8 406.4,1289.6 406.5,1293 406.7,1295.7 406.9,1298.8 407.1,1301.9 407.3,1304.3 407.5,1306.8 407.7,1309.5 408,1311.8 408.3,1314.7 408.6,1316.9 408.9,1319.4 409.2,1321.1 409.6,1325 409.9,1326.6 410.2,1329.6 410.6,1332.6 410.9,1335.5 411.2,1338.2 411.5,1338.9 411.8,1342 412,1344.5 412.3,1347.1 412.6,1349.1 412.8,1352.5 413.1,1354.1 413.3,1357.1 413.6,1360.9 413.8,1363.1 414.1,1365.1 414.3,1366.9 414.6,1371.2 414.8,1373.2 415.1,1374.8 415.3,1377.6 415.5,1380.7 415.8,1383.3 416,1385 416.3,1388.9 416.5,1390.2 416.7,1392.5 416.9,1396.2 417.2,1397.4 417.4,1401 417.7,1402.5 417.9,1405.9 418.2,1407.8 418.4,1410.6 418.7,1414.3 419,1415.9 419.3,1418.3 419.6,1421.2 419.8,1423.1 420.1,1425.4 420.4,1428.5 420.7,1430.8 421,1433.3 421.3,1437.4 421.6,1438.2 422,1442.3 422.3,1445.1 422.7,1447.2 423,1448.3 423.4,1451.8 423.8,1453.2 424.2,1456.7 424.6,1459.2 425.2,1461.1 425.8,1463.4 426.5,1467.2 427.2,1468.9 427.9,1472 428.6,1474.8 429.3,1478.2 430,1479.7 430.7,1481.7 431.3,1485.5 431.8,1488 432.3,1490.3 432.6,1492.2 432.8,1495.4 433,1498.8 433.2,1501.9 433.5,1504 433.9,1507.6 434.5,1509.9 435.3,1512.1 437.1,1514.2 439.4,1514.1 441.7,1516.7 443.6,1517.5 444.9,1521.4 445.9,1523.6 446.9,1526.1 448.4,1527.2 450.4,1528.7 452.7,1531.8 455.3,1532.8 457.9,1534.1 460.3,1534.9 462.6,1536.7 464.7,1536.7 467,1537.4 469.8,1538.2 471.8,1538.4 474,1539.2 476.4,1539.9 479.1,1538.3 481.8,1538.4 484.6,1539.2 487.5,1539.5 490.4,1538.4 493.2,1538.5 495.9,1537.9 498.4,1537.7 500.8,1538.5 503.8,1538.7 506.7,1538.4 509.5,1537.2 512.3,1536.8 514.9,1538.1 517.4,1536.8 519.8,1535.9 522.4,1535.4 524.9,1534.1 527.2,1532.3 529.5,1530.1 531.7,1530.9 534.4,1529.6 536.9,1529.7 540,1530.3 541.8,1530.3 543.8,1530 546,1528.5 548.3,1528.7 550.8,1527.4 553.3,1525.8 556,1526.2 558.7,1525.1 561.4,1524.3 564.1,1522.8 566.8,1521 569.4,1521.3 571.9,1520.8 574.5,1519.4 577.2,1519.5 579.8,1519 582.5,1517.3 585.1,1517.8 587.8,1517.3 590.4,1516.5 593.1,1514.5 595.7,1514.7 598.4,1514.7 601,1514.3 603.7,1514.1 606.4,1513.5 609,1512.1 611.7,1513.3 614.3,1512.2 617,1512.6 619.7,1510.9 622.3,1512.2 625,1511 627.6,1511.1 630.3,1510.6 633,1510.5 635.6,1509 638.1,1508 640.6,1508 643.1,1506.9 645.6,1506.9 648.1,1506.7 650.7,1505.1 653.2,1503.9 655.6,1503 658.1,1503.2 660.5,1503 662.8,1501.4 665.2,1502.4 667.4,1501.3 670.3,1501.2 673.2,1503.3 676.1,1503.2 678.9,1504.7 681.5,1504.7 684.1,1504.4 686.5,1504.9 688.7,1504.9 691.1,1504.2 693.1,1502.7 694.9,1500.5 696.9,1498.4 699.3,1496.1 701.5,1495.7 703.9,1495.1 706.4,1495 709.1,1494.4 711.8,1494.9 714.7,1494.6 717.6,1493.7 720.5,1495.1 723,1494.5 725.5,1494.9 728.2,1494.8 730.9,1494.7 733.7,1495.3 736.5,1494.1 739.3,1494.1 742,1493.2 744.8,1494.5 747.4,1494.1 750,1493.9 752.4,1494.4 755.3,1492.2 758.1,1491.6 760.9,1491.8 763.5,1491.1 766.1,1489.6 768.7,1487.8 771.2,1487.6 773.6,1487.7 776.3,1486.2 779.1,1485.5 781.8,1484.8 784.3,1484.5 786.6,1483.4 788.5,1482.1 789.9,1480.7 791,1478.3 791.8,1475.2 792.5,1472.4 793.2,1470.8 793.9,1468.1 794.8,1465.7 795.7,1461.9 796.7,1460.9 797.7,1458.5 798.8,1454.4 799.8,1452.3 800.9,1450.3 802,1446.7 803,1445.5 803.9,1441.7 804.7,1440 805.4,1436.7 806,1434 806.4,1431.4 806.7,1429.4 806.9,1427.3 807.1,1423.8 807.3,1422.2 807.5,1419 807.8,1417 808.1,1414 808.6,1411.1 809.2,1408.4 809.9,1405.7 810.6,1404.5 811.4,1401.4 812.2,1398.3 813.1,1397.2 813.9,1394.2 814.7,1390.4 815.4,1389.3 816.1,1386.4 816.7,1383.6 817.2,1381.2 817.7,1379.7 818.1,1376 818.5,1373.9 819,1371.4 819.4,1368.3 819.9,1365.8 820.3,1364.1 820.8,1361.3 821.4,1358.5 822,1356 822.7,1352.8 823.3,1351.2 824,1347 824.6,1345.7 825.4,1342.7 826.1,1339.7 827,1337.9 827.8,1335.6 828.8,1332.3 829.9,1330.6 831.1,1327.4 832.4,1326.1 833.7,1322.8 835.1,1320.5 836.5,1318.3 838,1316.4 839.4,1315.5 841.9,1314.2 844.5,1314.7 846.9,1315.7 848.6,1315.7 850.2,1317.5 851.7,1320.9 853,1322.9 854.3,1326.5 855.1,1329.2 855.8,1330.3 856.4,1333.6 856.9,1335.7 857.5,1337.3 858,1340.3 858.5,1343.7 859,1345.4 859.5,1348.3 860.1,1351.8 860.7,1354.9 861.3,1356.8 861.9,1359.6 862.5,1360.8 863.2,1364 863.8,1366.7 864.5,1370.5 865.1,1372.1 865.8,1375.6 866.4,1376.7 867,1380.3 867.6,1383.7 868.2,1386 868.7,1388.1 869.2,1389.8 869.7,1393.9 870.1,1394.7 870.5,1399 870.8,1401.1 871.1,1403.4 871.5,1405.5 871.8,1407.2 872.1,1410 872.5,1413.1 872.9,1415.7 873.4,1417.8 873.9,1421.1 874.4,1422.1 874.9,1425.3 875.5,1427.6 876.1,1430.8 876.7,1434.5 877.4,1437.1 878,1438.7 878.6,1441.7 879.3,1443.9 880,1447.5 880.6,1449.5 881.3,1451.4 881.9,1453.8 882.7,1457.7 883.5,1459.5 884.3,1462.6 885.1,1464.9 886,1466.9 887.1,1469.2 888.3,1470.8 890.1,1472.8 892.2,1475.4 894.4,1476.9 896.7,1478.6 898.9,1480.1 901,1483.1 903.2,1483.6 905.4,1484.5 907.5,1485.6 909.5,1487.5 911.6,1491.1 913.6,1492.6 915.6,1495.5 918,1496.1 920.2,1497.2 922.7,1496.4 925.3,1496.3 927.9,1495.2 930.5,1494.3 932.9,1494.1 935.6,1495.4 938.1,1497.2 940.6,1498.2 943.5,1498.7 946.1,1498.6 949.2,1499.9 952.7,1499.7 956.3,1498.2 959.5,1499.1 962.2,1499.1 964,1498.7 964.7,1499.2" fill="none" stroke="#000" stroke-width="4" stroke-linejoin="round" stroke-linecap="butt" />
<polyline points="222.8,1724.3 223.2,1722.1 224.3,1721.6 226.1,1723.8 228.3,1721.3 231,1720.6 234.1,1721.5 237.4,1720.2 240.8,1721.1 244.3,1718.9 247.7,1720.4 251,1718.4 254,1719 256.3,1719.7 258.6,1719.1 261.1,1719.7 263.6,1719.2 266.1,1717.5 268.7,1719.8 271.3,1719.2 274,1718.6 276.6,1718.5 279.3,1720.4 281.9,1719.9 284.5,1721 287.1,1720.7 289.7,1721.3 292.2,1720.5 294.7,1720.9 297.1,1720.8 299.4,1719.9 301.7,1721.7 304.7,1720 307.6,1721.2 310.5,1721.7 313.3,1721 316,1719.6 318.7,1721.3 321.3,1720.8 323.9,1719.3 326.4,1718.6 328.8,1719.4 331.1,1717.5 333.7,1718.9 336.2,1716.6 338.5,1715.4 340.8,1713.7 343,1712.8 345.2,1711.9 347.3,1708.8 349.4,1707.4 351.6,1706.2 353.7,1703.7 355.8,1702.6 357.8,1700.6 359.8,1698.4 361.9,1697.1 364.1,1694.9 366.1,1692 368.1,1692.4 370.3,1688.8 372.5,1686.9 374.6,1684.9 376.7,1684.5 378.8,1683.1 380.7,1680.9 382.4,1679.9 385,1679 387.3,1681.8 389.7,1681.1 391.5,1683.5 393.4,1684.8 395.3,1687 397.1,1689.4 399,1691.5 400.8,1693.6 402.2,1697 403.5,1700 404.8,1702.1 406.1,1703.6 407.4,1707.4 408.8,1708.2 410.3,1711.3 411.9,1714.3 413.6,1716.1 416,1716.2 418.7,1718 421.5,1717.6 424.3,1717.9 427.2,1718.4 430.1,1720 432.6,1720 435,1719.9 437.3,1721.3 439.8,1721.8 442.4,1721.7 445.2,1723.4 448.4,1723.9 450.3,1723.6 452.3,1724.6 454.3,1722.3 456.5,1723.7 458.7,1724.1 461,1723.4 463.4,1723 465.9,1724.3 468.4,1723.6 471,1723.2 473.6,1722.5 476.2,1724.9 478.9,1723.2 481.6,1722.5 484.4,1722.7 487.1,1722.8 489.8,1724.3 492.6,1722.4 495.3,1722.6 498.1,1722.1 500.8,1723 503.5,1722.3 505.9,1722.7 508.2,1723.7 510.6,1724.2 513.1,1723.9 515.5,1721.8 518,1722.7 520.5,1723.9 523,1721.8 525.5,1722.2 528,1722.9 530.5,1722.6 533.1,1723.6 535.6,1723.5 538.2,1722.8 540.8,1722.2 543.4,1722.1 545.9,1722.2 548.5,1721.7 551.1,1723.2 553.7,1721.8 556.3,1723.7 558.9,1723 561.5,1721.5 564,1722.6 566.6,1722.8 569.2,1721.3 571.7,1722.5 574.3,1721.2 576.8,1723.1 579.3,1721.1 581.9,1722.6 584.4,1723.5 586.9,1723.1 589.5,1721.4 592,1722.1 594.5,1721 597,1721.5 599.6,1722.8 602.1,1722.6 604.6,1720.4 607.2,1721.3 609.7,1721.9 612.2,1720.6 614.8,1722.2 617.3,1722.3 619.8,1721.3 622.4,1720.8 624.9,1722 627.4,1721 629.9,1720.1 632.5,1720.3 635,1719.9 637.5,1721.6 640.1,1720.7 642.6,1721.1 645.1,1721.4 647.7,1721.8 650.2,1719.7 652.7,1720.2 655.3,1721.4 657.8,1721.1 660.4,1720.1 663,1720.8 665.6,1719.6 668.2,1719.5 670.7,1719.3 673.3,1720.1 675.9,1719.8 678.5,1720.5 681.1,1721.7 683.7,1719.6 686.3,1720.7 688.8,1721.5 691.4,1720.8 694,1720.6 696.5,1721.3 699.1,1719.3 701.6,1721.8 704.1,1721.1 706.6,1721.4 709.1,1721.5 711.6,1719.6 714,1719.5 716.4,1719.7 718.9,1720.6 721.2,1721.7 723.6,1721.6 726.3,1720.2 729,1720.7 731.7,1721 734.5,1719.9 737.2,1721.5 740,1721.4 742.7,1720.8 745.4,1721.3 748.1,1720.9 750.8,1720.5 753.5,1719.6 756.1,1719.4 758.6,1719.2 761.1,1718.7 763.6,1720.9 766,1719.1 768.3,1718.3 770.5,1718.9 772.7,1718.2 774.7,1718.9 776.7,1718.5 778.6,1717.9 781.8,1718.2 784.6,1717.7 787.2,1717 789.7,1717.7 792.1,1715.9 794.5,1715.8 797,1716 799.6,1715.3 802.3,1712.7 804.9,1710.7 807.5,1711.9 810.1,1709.7 812.7,1707.9 815.3,1706.7 817.9,1706.3 820.6,1705.9 823.4,1705 826.1,1704.3 828.7,1706.3 831.2,1705.4 833.6,1703 836.6,1702.8 839.3,1702.3 841.9,1700.5 844.6,1699.3 846.6,1700.8 848.5,1702.5 850.4,1706 852.4,1707.4 854.5,1709.4 856.8,1711.9 859.3,1712 861.5,1714.6 863.7,1715.7 866.1,1716 868.6,1715.8 871.1,1716 873.8,1715.7 876.6,1716.2 879.4,1716.8 882.4,1717.9 885.5,1719 888.6,1718 890.8,1718.9 893.3,1719.6 895.9,1719.8 898.8,1718.5 901.9,1721.1 905.1,1720.5 908.4,1720 911.8,1720.1 915.2,1721.5 918.6,1722.3 922.1,1721 925.5,1721.4 928.8,1722 932,1721.2 935.2,1721.9 938.1,1723.4 940.9,1722.6 943.4,1723.5 945.7,1722.1 947.8,1723.8 949.5,1723.7 950.9,1722.3 951.9,1723.1 952.6,1723.6 952.8,1723.3" fill="none" stroke="#808080" stroke-width="4" stroke-linejoin="round" stroke-linecap="butt" />
<line x1="388.6" y1="1140.5" x2="388.6" y2="1192" stroke="#000" stroke-width="2.3" stroke-dasharray="6,5.4"/>
<line x1="386.6" y1="1200" x2="386.6" y2="1762" stroke="#000" stroke-width="2.3" stroke-dasharray="6,5.4"/>
<line x1="840.2" y1="1283.5" x2="840.2" y2="1755" stroke="#000" stroke-width="2.3" stroke-dasharray="6,5.4"/>
<line x1="400" y1="1595" x2="828" y2="1595" stroke="#c0c0c0" stroke-width="2.5" />
<polygon points="388.5,1595 407.5,1589.5 407.5,1600.5" fill="#c0c0c0"/>
<polygon points="839,1595 820,1589.5 820,1600.5" fill="#c0c0c0"/>
<text x="553.4" y="1584.6" font-size="38.8" fill="#808080" text-anchor="start" font-weight="normal" textLength="128.5" lengthAdjust="spacingAndGlyphs" >23.1 eV</text>
<text x="344.3" y="1105.9" font-size="38.4" fill="#000" text-anchor="start" font-weight="normal" textLength="91.2" lengthAdjust="spacingAndGlyphs" >Zn 2p</text>
<text x="440.2" y="1121.9" font-size="19.5" fill="#000" text-anchor="start" font-weight="normal" textLength="24.8" lengthAdjust="spacingAndGlyphs" >3/2</text>
<text x="805.5" y="1237.5" font-size="38.4" fill="#000" text-anchor="start" font-weight="normal" textLength="91.1" lengthAdjust="spacingAndGlyphs" >Zn 2p</text>
<text x="900.5" y="1251" font-size="19.5" fill="#000" text-anchor="start" font-weight="normal" textLength="24.7" lengthAdjust="spacingAndGlyphs" >1/2</text>
<text x="852.2" y="1550.6" font-size="39" fill="#000" text-anchor="start" font-weight="normal" textLength="236.6" lengthAdjust="spacingAndGlyphs" >CV treated GR</text>
<text x="849.7" y="1765.4" font-size="37.4" fill="#808080" text-anchor="start" font-weight="normal" textLength="188.2" lengthAdjust="spacingAndGlyphs" >Original GR</text>
<rect x="1280.5" y="1016" width="984.5" height="801" fill="none" stroke="#000" stroke-width="2.2"/>
<line x1="1378.9" y1="1817" x2="1378.9" y2="1834" stroke="#000" stroke-width="2.2" />
<line x1="1575.8" y1="1817" x2="1575.8" y2="1834" stroke="#000" stroke-width="2.2" />
<line x1="1772.8" y1="1817" x2="1772.8" y2="1834" stroke="#000" stroke-width="2.2" />
<line x1="1969.6" y1="1817" x2="1969.6" y2="1834" stroke="#000" stroke-width="2.2" />
<line x1="2166.5" y1="1817" x2="2166.5" y2="1834" stroke="#000" stroke-width="2.2" />
<line x1="1280.5" y1="1817" x2="1280.5" y2="1827.5" stroke="#000" stroke-width="2.2" />
<line x1="1477.4" y1="1817" x2="1477.4" y2="1827.5" stroke="#000" stroke-width="2.2" />
<line x1="1674.3" y1="1817" x2="1674.3" y2="1827.5" stroke="#000" stroke-width="2.2" />
<line x1="1871.2" y1="1817" x2="1871.2" y2="1827.5" stroke="#000" stroke-width="2.2" />
<line x1="2068.1" y1="1817" x2="2068.1" y2="1827.5" stroke="#000" stroke-width="2.2" />
<line x1="2265" y1="1817" x2="2265" y2="1827.5" stroke="#000" stroke-width="2.2" />
<text x="1377.4" y="1872.5" font-size="38.6" fill="#000" text-anchor="middle" font-weight="normal" textLength="66.6" lengthAdjust="spacing" >525</text>
<text x="1574.3" y="1872.5" font-size="38.6" fill="#000" text-anchor="middle" font-weight="normal" textLength="66.6" lengthAdjust="spacing" >530</text>
<text x="1771.2" y="1872.5" font-size="38.6" fill="#000" text-anchor="middle" font-weight="normal" textLength="66.6" lengthAdjust="spacing" >535</text>
<text x="1968.1" y="1872.5" font-size="38.6" fill="#000" text-anchor="middle" font-weight="normal" textLength="66.6" lengthAdjust="spacing" >540</text>
<text x="2165" y="1872.5" font-size="38.6" fill="#000" text-anchor="middle" font-weight="normal" textLength="66.6" lengthAdjust="spacing" >545</text>
<text x="1771.6" y="1945.7" font-size="58.2" fill="#000" text-anchor="middle" font-weight="normal" textLength="527.5" lengthAdjust="spacingAndGlyphs" >Binding energy (eV)</text>
<text x="1239" y="1414.9" font-size="64.5" fill="#000" text-anchor="middle" font-weight="normal" transform="rotate(-90 1239 1414.9)" textLength="382.6" lengthAdjust="spacingAndGlyphs" >Intensity (a.u.)</text>
<text transform="translate(1318.5 1119.2) scale(0.935 1)" x="0" y="0" font-size="81" font-weight="bold" style="font-family:'DejaVu Sans',sans-serif">d</text>
<text x="2237.7" y="1071.8" font-size="38" fill="#000" text-anchor="end" font-weight="bold" textLength="82" lengthAdjust="spacingAndGlyphs" >O 1s</text>
<polyline points="1494.7,1433.9 1495.2,1434 1496.6,1434.3 1498.8,1434.5 1501.6,1433.7 1504.8,1433.5 1508.3,1433.4 1511.9,1433.7 1515.5,1432.7 1518.9,1433.1 1521.9,1432.6 1524.5,1431.6 1527.2,1431.7 1529.9,1431.2 1532.7,1430.7 1535.5,1431 1538.3,1429.4 1541.1,1428.8 1543.8,1429.3 1546.4,1428.1 1548.9,1427.2 1551.2,1426.6 1553.4,1425.9 1556.3,1425.5 1559,1423.5 1561.4,1422.3 1563.8,1421.3 1566,1419.6 1568.1,1418.2 1569.7,1416.4 1571.2,1414 1572.6,1411.8 1574,1410.4 1575.3,1408.4 1576.6,1404.9 1577.7,1403.3 1578.9,1401 1580,1398.2 1580.9,1395.5 1581.7,1393.9 1582.5,1391.5 1583.2,1388.4 1583.9,1386.5 1584.5,1383.5 1585.2,1380.7 1585.8,1378.4 1586.4,1375.8 1587,1373.2 1587.6,1370.8 1588.2,1368.3 1588.8,1365.8 1589.3,1363.5 1589.9,1361.2 1590.4,1358.6 1590.9,1355.6 1591.4,1353 1591.9,1351.1 1592.4,1348.6 1592.9,1346.2 1593.4,1343 1593.9,1340.7 1594.4,1339 1594.9,1336.1 1595.4,1333.7 1595.9,1330.5 1596.3,1328.3 1596.8,1326.4 1597.2,1323.6 1597.7,1321.6 1598.2,1318 1598.6,1315.7 1599.1,1313.6 1599.5,1310.5 1599.9,1308.3 1600.4,1305.4 1600.8,1302.3 1601.2,1299.6 1601.6,1298.1 1602,1294.4 1602.5,1291.9 1602.9,1289.5 1603.3,1287.4 1603.7,1285 1604.1,1282 1604.6,1279.4 1605,1277.2 1605.5,1274.1 1605.9,1271.7 1606.4,1269.4 1606.8,1267 1607.3,1263.7 1607.7,1261.3 1608.2,1258.9 1608.7,1257.1 1609.1,1254.6 1609.6,1252.5 1610.1,1249.7 1610.5,1246.7 1611,1244.8 1611.5,1242.6 1611.9,1239.4 1612.4,1236.5 1612.9,1234.3 1613.4,1231.6 1613.9,1228.9 1614.4,1226.1 1614.8,1223.6 1615.3,1221.8 1615.8,1218.2 1616.3,1216.3 1616.8,1213.2 1617.3,1210.6 1617.8,1208.8 1618.3,1205.7 1618.8,1203 1619.3,1200.9 1619.8,1198.7 1620.4,1195.9 1620.9,1193.7 1621.5,1190.6 1622.1,1188.2 1622.6,1185.9 1623.2,1183.1 1623.8,1180.9 1624.4,1178.2 1625,1175.3 1625.6,1172.8 1626.2,1171.1 1626.8,1168.5 1627.4,1166.3 1628,1163.5 1628.7,1160.8 1629.3,1157.8 1630,1156.1 1630.6,1152.6 1631.3,1150.5 1631.9,1147.6 1632.6,1145.5 1633.3,1143 1633.9,1140.9 1634.6,1139 1635.2,1136.7 1636.2,1133.3 1637.1,1131 1638,1128.1 1638.9,1125.6 1639.9,1122.2 1641,1120.6 1642.8,1117.7 1644.7,1114 1646.7,1112.6 1648.5,1114.3 1650.3,1115.9 1652,1118.4 1653.4,1120.8 1654.8,1122.4 1656.1,1124.5 1657.3,1127.1 1658.1,1129.2 1658.9,1131.8 1659.7,1133.7 1660.4,1136.6 1661.1,1138.3 1661.8,1141.1 1662.5,1144.2 1663.1,1146.7 1663.6,1149.1 1664.1,1152.1 1664.6,1153.9 1665,1156.4 1665.4,1158.9 1665.8,1162.1 1666.2,1164.6 1666.6,1167.5 1667,1169.7 1667.4,1172.4 1667.9,1175.5 1668.4,1178.5 1668.9,1180.6 1669.4,1184 1670,1186.2 1670.5,1188.6 1671.1,1191.7 1671.6,1193.7 1672.2,1196.7 1672.7,1199.7 1673.2,1201.9 1673.7,1204.3 1674.2,1206.6 1674.6,1209.8 1675.1,1212 1675.5,1214.9 1675.9,1217.7 1676.3,1220.8 1676.7,1223.1 1677.1,1225.5 1677.6,1228.6 1678,1230.5 1678.5,1233.3 1679,1236.2 1679.5,1238.7 1680,1241 1680.5,1243.8 1681.1,1246.9 1681.6,1248.9 1682.1,1252 1682.7,1253.9 1683.2,1257.6 1683.8,1259.9 1684.3,1262.1 1684.8,1265.5 1685.4,1267.9 1685.9,1269.7 1686.5,1272.5 1687,1275.4 1687.5,1278.7 1688.1,1280.3 1688.6,1282.8 1689.1,1285.7 1689.6,1288 1690.1,1291.1 1690.6,1293.9 1691,1296.4 1691.4,1298.7 1691.8,1301.1 1692.2,1304.7 1692.6,1306.9 1693.1,1309.6 1693.5,1312.2 1693.9,1315.1 1694.4,1318 1694.9,1320.5 1695.4,1323 1696,1325.2 1696.6,1327.7 1697.2,1330.2 1697.8,1333.8 1698.4,1335.5 1699,1338.8 1699.7,1341.8 1700.3,1343.7 1701,1346.3 1701.7,1348.9 1702.4,1352.1 1703.1,1354.4 1703.9,1357.1 1704.6,1358.6 1705.4,1361.9 1706.1,1364.1 1706.9,1366.5 1707.7,1369.4 1708.6,1371.8 1709.4,1374.5 1710.3,1376.8 1711.2,1379.6 1712.1,1381.7 1713,1384.5 1713.9,1387.3 1714.9,1389.5 1715.9,1391.7 1716.9,1394.6 1717.9,1397.3 1719,1399.5 1720.3,1401.1 1721.5,1403.8 1722.8,1405.9 1724.1,1408.2 1725.5,1411.1 1727,1412.4 1728.6,1414.3 1730.3,1416.1 1732.1,1418.1 1734.1,1420.1 1736,1421.4 1738.1,1422.8 1740.1,1424.3 1742.1,1425.8 1744.2,1428.1 1746.2,1428.6 1748.2,1430.7 1750.4,1431.2 1752.8,1433.1 1755.6,1433.5 1757.5,1434.7 1759.6,1434.7 1761.8,1434.7 1764.1,1435.1 1766.6,1436.2 1769.1,1436.2 1771.8,1436.4 1774.5,1436.4 1777.3,1437 1780.1,1436.9 1783,1436.5 1785.9,1437.2 1788.7,1437 1791.6,1437.7 1794.4,1437.5 1797.3,1437.8 1800,1437.1 1802.5,1437.9 1804.9,1437.9 1807.4,1438.3 1809.8,1438.4 1812.2,1438 1814.6,1438.1 1817,1438.4 1819.4,1437.8 1821.9,1438.1 1824.3,1438.4 1826.8,1438.2 1829.4,1438.1 1832,1438.4 1834.6,1438.5 1837.3,1437.6 1840.1,1437.3 1843,1437.9 1845.9,1437.3 1848.9,1438.2 1852,1437.5 1854,1437.5 1856,1437.7 1858.1,1437.7 1860.2,1436.7 1862.3,1437 1864.5,1436.6 1866.7,1436.8 1869,1436.3 1871.3,1437.1 1873.6,1436.3 1876,1436.2 1878.4,1436.7 1880.8,1436.4 1883.2,1435.7 1885.7,1435.7 1888.2,1435.8 1890.7,1435 1893.2,1434.8 1895.8,1435.5 1898.3,1434.5 1900.9,1435 1903.5,1434.8 1906.1,1434.4 1908.8,1434 1911.4,1434.4 1914.1,1434.1 1916.7,1433.1 1919.4,1433.9 1922.1,1433.4 1924.7,1432.7 1927.4,1432.4 1930.1,1432.1 1932.8,1432.8 1935.4,1432.6 1938.1,1431.9 1940.8,1431.5 1943.4,1431.2 1946.1,1431.4 1948.7,1431.1 1951.4,1430.6 1954,1430.7 1956.6,1431.1 1959.2,1430.1 1961.8,1430.3 1964.3,1430.3 1966.9,1429.7 1969.4,1429.4 1971.9,1429.3 1974.4,1429.2 1976.8,1430.1 1979.4,1429.8 1982,1429.5 1984.5,1429.5 1987.1,1428.7 1989.7,1428.5 1992.3,1429.1 1994.8,1428.6 1997.4,1428.9 2000,1428.1 2002.5,1428 2005.1,1428.2 2007.7,1428.3 2010.2,1427.3 2012.8,1427.3 2015.3,1426.9 2017.9,1427.4 2020.4,1427.7 2023,1427.1 2025.5,1426.5 2028.1,1427 2030.6,1426.9 2033.1,1426.1 2035.7,1426.9 2038.2,1426.5 2040.7,1426.2 2043.2,1425.9 2045.8,1425.6 2048.3,1425.8 2050.8,1425.6 2053.3,1425.3 2055.8,1425.7 2058.3,1425.6 2060.8,1425.8 2063.2,1425.7 2065.7,1425 2068.2,1425.2 2070.7,1424.6 2073.1,1424.6 2075.6,1424.7 2078,1425 2080.5,1423.8 2082.9,1424.2 2085.4,1423.9 2087.8,1424.4 2090.2,1424.4 2092.9,1423.7 2095.7,1423.1 2098.6,1423.6 2101.6,1423.5 2104.7,1423.5 2107.9,1423.4 2111.1,1422.9 2114.4,1422.9 2117.7,1423 2121,1422 2124.4,1422.1 2127.8,1422.5 2131.2,1422.7 2134.6,1422.5 2137.9,1421.6 2141.2,1422.2 2144.5,1421.3 2147.8,1421.4 2150.9,1420.9 2154,1421.3 2157.1,1420.9 2160,1421.1 2162.9,1421.3 2165.6,1420.2 2168.2,1420.7 2170.7,1420.6 2173,1420.1 2175.2,1419.7 2177.2,1420.7 2179.1,1420.3 2180.8,1420.2 2182.3,1419.5 2183.5,1420.4 2184.6,1419.8 2185.5,1419.8 2186.1,1419.9 2186.5,1419.7 2186.6,1420.3" fill="none" stroke="#bcbcbc" stroke-width="9" stroke-linejoin="round" stroke-linecap="butt" />
<polyline points="1494.7,1436 1495.2,1436 1496.6,1435.9 1498.8,1435.8 1501.6,1435.6 1504.8,1435.4 1508.3,1435.2 1511.9,1434.9 1515.5,1434.6 1518.9,1434.3 1521.9,1433.9 1524.5,1433.5 1527.2,1433.2 1529.9,1432.8 1532.7,1432.3 1535.5,1431.9 1538.3,1431.4 1541.1,1430.9 1543.8,1430.3 1546.4,1429.7 1548.9,1429.1 1551.2,1428.4 1553.4,1427.6 1556.3,1426.5 1559,1425.3 1561.4,1424.1 1563.8,1422.7 1566,1421.1 1568.1,1419.2 1569.7,1417.5 1571.2,1415.7 1572.6,1413.7 1574,1411.5 1575.3,1409.3 1576.6,1407 1577.7,1404.5 1578.9,1402 1580,1399.5 1580.9,1397.3 1581.7,1395 1582.5,1392.7 1583.2,1390.3 1583.9,1387.8 1584.5,1385.3 1585.2,1382.7 1585.8,1380.1 1586.4,1377.5 1587,1374.8 1587.6,1372.1 1588.2,1369.4 1588.8,1366.7 1589.3,1364.4 1589.9,1362.1 1590.4,1359.7 1590.9,1357.3 1591.4,1354.9 1591.9,1352.5 1592.4,1350 1592.9,1347.5 1593.4,1345 1593.9,1342.5 1594.4,1340 1594.9,1337.5 1595.4,1335 1595.9,1332.5 1596.3,1330 1596.8,1327.5 1597.2,1325 1597.7,1322.5 1598.2,1319.9 1598.6,1317.3 1599.1,1314.7 1599.5,1312.1 1599.9,1309.5 1600.4,1306.8 1600.8,1304.2 1601.2,1301.6 1601.6,1299 1602,1296.4 1602.5,1293.8 1602.9,1291.2 1603.3,1288.6 1603.7,1286 1604.1,1283.5 1604.6,1280.9 1605,1278.4 1605.5,1275.9 1605.9,1273.3 1606.4,1270.8 1606.8,1268.3 1607.3,1265.8 1607.7,1263.3 1608.2,1260.8 1608.7,1258.3 1609.1,1255.9 1609.6,1253.4 1610.1,1250.9 1610.5,1248.5 1611,1246 1611.5,1243.5 1611.9,1241.1 1612.4,1238.6 1612.9,1236 1613.4,1233.4 1613.9,1230.8 1614.4,1228.1 1614.8,1225.5 1615.3,1222.9 1615.8,1220.3 1616.3,1217.7 1616.8,1215.1 1617.3,1212.5 1617.8,1209.9 1618.3,1207.4 1618.8,1204.9 1619.3,1202.4 1619.8,1200 1620.4,1197.3 1620.9,1194.7 1621.5,1192.2 1622.1,1189.6 1622.6,1187.1 1623.2,1184.6 1623.8,1182.2 1624.4,1179.7 1625,1177.2 1625.6,1174.7 1626.2,1172.2 1626.8,1169.7 1627.4,1167.3 1628,1164.8 1628.7,1162.2 1629.3,1159.7 1630,1157.1 1630.6,1154.6 1631.3,1152.1 1631.9,1149.6 1632.6,1147.1 1633.3,1144.8 1633.9,1142.5 1634.6,1140.3 1635.2,1138.2 1636.2,1135.1 1637.1,1132.1 1638,1129.3 1638.9,1126.7 1639.9,1124.2 1641,1122 1642.8,1118.7 1644.7,1115.8 1646.7,1114.5 1648.5,1115.4 1650.3,1117.6 1652,1120 1653.4,1121.9 1654.8,1124 1656.1,1126.3 1657.3,1128.9 1658.1,1130.9 1658.9,1133.1 1659.7,1135.4 1660.4,1137.8 1661.1,1140.3 1661.8,1142.9 1662.5,1145.5 1663.1,1148.2 1663.6,1150.6 1664.1,1153.1 1664.6,1155.6 1665,1158.3 1665.4,1160.9 1665.8,1163.6 1666.2,1166.3 1666.6,1169.1 1667,1171.8 1667.4,1174.5 1667.9,1177.1 1668.4,1179.7 1668.9,1182.4 1669.4,1185 1670,1187.6 1670.5,1190.2 1671.1,1192.9 1671.6,1195.5 1672.2,1198.1 1672.7,1200.7 1673.2,1203.4 1673.7,1206 1674.2,1208.6 1674.6,1211.3 1675.1,1213.9 1675.5,1216.5 1675.9,1219.1 1676.3,1221.8 1676.7,1224.4 1677.1,1227 1677.6,1229.6 1678,1232.3 1678.5,1234.9 1679,1237.5 1679.5,1240.2 1680,1242.8 1680.5,1245.4 1681.1,1248 1681.6,1250.7 1682.1,1253.3 1682.7,1255.9 1683.2,1258.5 1683.8,1261.2 1684.3,1263.8 1684.8,1266.4 1685.4,1269.1 1685.9,1271.7 1686.5,1274.3 1687,1276.9 1687.5,1279.6 1688.1,1282.2 1688.6,1284.8 1689.1,1287.4 1689.6,1290.1 1690.1,1292.7 1690.6,1295.3 1691,1298 1691.4,1300.6 1691.8,1303.2 1692.2,1305.8 1692.6,1308.5 1693.1,1311.1 1693.5,1313.7 1693.9,1316.4 1694.4,1319 1694.9,1321.6 1695.4,1324.2 1696,1326.9 1696.6,1329.6 1697.2,1332.2 1697.8,1334.9 1698.4,1337.5 1699,1340.2 1699.7,1342.8 1700.3,1345.4 1701,1348 1701.7,1350.5 1702.4,1353.1 1703.1,1355.6 1703.9,1358.2 1704.6,1360.7 1705.4,1363.1 1706.1,1365.6 1706.9,1368.1 1707.7,1370.5 1708.6,1373 1709.4,1375.5 1710.3,1378.1 1711.2,1380.6 1712.1,1383.3 1713,1385.9 1713.9,1388.5 1714.9,1391.1 1715.9,1393.6 1716.9,1396 1717.9,1398.4 1719,1400.6 1720.3,1403.1 1721.5,1405.5 1722.8,1407.7 1724.1,1409.9 1725.5,1412 1727,1414 1728.6,1416 1730.3,1417.9 1732.1,1419.7 1734.1,1421.4 1736,1423.1 1738.1,1424.6 1740.1,1426.2 1742.1,1427.6 1744.2,1429.1 1746.2,1430.5 1748.2,1431.9 1750.4,1433.1 1752.8,1434.3 1755.6,1435.3 1757.5,1435.8 1759.6,1436.3 1761.8,1436.7 1764.1,1437.1 1766.6,1437.4 1769.1,1437.7 1771.8,1437.9 1774.5,1438.1 1777.3,1438.2 1780.1,1438.4 1783,1438.5 1785.9,1438.6 1788.7,1438.7 1791.6,1438.8 1794.4,1438.9 1797.3,1439 1800,1439.1 1802.5,1439.2 1804.9,1439.3 1807.4,1439.4 1809.8,1439.4 1812.2,1439.5 1814.6,1439.5 1817,1439.5 1819.4,1439.6 1821.9,1439.6 1824.3,1439.6 1826.8,1439.6 1829.4,1439.5 1832,1439.5 1834.6,1439.5 1837.3,1439.4 1840.1,1439.3 1843,1439.3 1845.9,1439.2 1848.9,1439.1 1852,1439 1854,1438.9 1856,1438.9 1858.1,1438.8 1860.2,1438.7 1862.3,1438.6 1864.5,1438.5 1866.7,1438.4 1869,1438.2 1871.3,1438.1 1873.6,1438 1876,1437.8 1878.4,1437.7 1880.8,1437.5 1883.2,1437.4 1885.7,1437.2 1888.2,1437.1 1890.7,1436.9 1893.2,1436.7 1895.8,1436.6 1898.3,1436.4 1900.9,1436.2 1903.5,1436 1906.1,1435.8 1908.8,1435.6 1911.4,1435.5 1914.1,1435.3 1916.7,1435.1 1919.4,1434.9 1922.1,1434.7 1924.7,1434.5 1927.4,1434.3 1930.1,1434.1 1932.8,1433.9 1935.4,1433.7 1938.1,1433.5 1940.8,1433.4 1943.4,1433.2 1946.1,1433 1948.7,1432.8 1951.4,1432.6 1954,1432.4 1956.6,1432.3 1959.2,1432.1 1961.8,1431.9 1964.3,1431.8 1966.9,1431.6 1969.4,1431.4 1971.9,1431.3 1974.4,1431.1 1976.8,1431 1979.4,1430.9 1982,1430.7 1984.5,1430.6 1987.1,1430.4 1989.7,1430.3 1992.3,1430.1 1994.8,1430 1997.4,1429.9 2000,1429.7 2002.5,1429.6 2005.1,1429.5 2007.7,1429.3 2010.2,1429.2 2012.8,1429.1 2015.3,1428.9 2017.9,1428.8 2020.4,1428.7 2023,1428.6 2025.5,1428.4 2028.1,1428.3 2030.6,1428.2 2033.1,1428.1 2035.7,1427.9 2038.2,1427.8 2040.7,1427.7 2043.2,1427.6 2045.8,1427.5 2048.3,1427.3 2050.8,1427.2 2053.3,1427.1 2055.8,1427 2058.3,1426.9 2060.8,1426.8 2063.2,1426.6 2065.7,1426.5 2068.2,1426.4 2070.7,1426.3 2073.1,1426.2 2075.6,1426.1 2078,1426 2080.5,1425.8 2082.9,1425.7 2085.4,1425.6 2087.8,1425.5 2090.2,1425.4 2092.9,1425.3 2095.7,1425.1 2098.6,1425 2101.6,1424.9 2104.7,1424.7 2107.9,1424.6 2111.1,1424.5 2114.4,1424.3 2117.7,1424.2 2121,1424 2124.4,1423.9 2127.8,1423.8 2131.2,1423.6 2134.6,1423.5 2137.9,1423.3 2141.2,1423.2 2144.5,1423 2147.8,1422.9 2150.9,1422.8 2154,1422.6 2157.1,1422.5 2160,1422.4 2162.9,1422.3 2165.6,1422.2 2168.2,1422.1 2170.7,1422 2173,1421.9 2175.2,1421.8 2177.2,1421.7 2179.1,1421.6 2180.8,1421.5 2182.3,1421.5 2183.5,1421.4 2184.6,1421.4 2185.5,1421.3 2186.1,1421.3 2186.5,1421.3 2186.6,1421.3" fill="none" stroke="#ff0000" stroke-width="4" stroke-linejoin="round" stroke-linecap="butt" />
<polyline points="1494.7,1436 1495,1436 1495.8,1435.9 1497.1,1435.8 1498.8,1435.7 1501,1435.5 1503.4,1435.3 1506.2,1435.1 1509.1,1434.8 1512.3,1434.6 1515.6,1434.3 1519,1434 1522.4,1433.7 1525.8,1433.4 1529.1,1433.1 1532.3,1432.8 1535.3,1432.5 1538.1,1432.3 1540.7,1432 1542.9,1431.8 1546.1,1431.5 1549.1,1431.1 1552,1430.8 1554.8,1430.5 1557.4,1430.2 1560,1429.8 1562.5,1429.4 1565,1429 1567.7,1428.6 1570.3,1428.2 1572.8,1427.8 1575.2,1427.3 1577.6,1426.6 1580,1425.6 1582.3,1424.4 1584.5,1422.9 1586.8,1421.3 1589,1419.5 1591,1417.6 1593,1415.8 1594.7,1413.9 1596.5,1411.7 1598.1,1409.4 1599.5,1407.1 1600.8,1404.7 1602.1,1402.1 1603.2,1399.6 1604.3,1397 1605.3,1394.3 1606.2,1391.5 1607.1,1388.7 1608,1385.9 1608.8,1383.3 1609.6,1380.6 1610.3,1377.8 1611.1,1375.1 1611.8,1372.3 1612.4,1369.5 1613.1,1366.7 1613.7,1364.2 1614.2,1361.8 1614.7,1359.3 1615.2,1356.8 1615.6,1354.3 1616.1,1351.8 1616.6,1349.4 1617,1347 1617.5,1344.1 1618.1,1341.3 1618.6,1338.5 1619.1,1335.7 1619.5,1332.9 1620,1330 1620.4,1327.3 1620.8,1324.6 1621.2,1321.8 1621.5,1319 1621.9,1316.3 1622.3,1313.5 1622.7,1310.8 1623.1,1308.2 1623.5,1305.7 1623.9,1303.2 1624.4,1300.6 1624.8,1298.1 1625.2,1295.6 1625.7,1293.1 1626.2,1290.6 1626.7,1288.1 1627.2,1285.7 1627.8,1283.2 1628.3,1280.7 1628.8,1278.1 1629.3,1275.4 1629.7,1273 1630.1,1270.4 1630.5,1267.7 1630.8,1265 1631.2,1262.2 1631.5,1259.4 1631.9,1256.7 1632.2,1254 1632.6,1251.4 1633,1248.9 1633.5,1246 1633.9,1243.2 1634.4,1240.4 1634.8,1237.7 1635.3,1235.1 1635.9,1232.4 1636.5,1229.8 1637.2,1227.2 1637.9,1224.5 1638.7,1221.8 1639.5,1219.2 1640.3,1216.7 1641.1,1214.3 1641.9,1212.1 1643.2,1208.6 1644.5,1205.4 1646,1203 1647.8,1201.2 1649.6,1200.5 1651.8,1202 1654,1205 1655,1206.8 1655.9,1209 1656.8,1211.4 1657.7,1214 1658.5,1216.7 1659.3,1219.5 1659.9,1221.8 1660.5,1224.3 1661.1,1226.8 1661.7,1229.5 1662.3,1232.2 1662.8,1235 1663.4,1237.9 1663.9,1240.7 1664.5,1243.6 1665,1246.4 1665.5,1248.8 1665.9,1251.3 1666.4,1253.7 1666.8,1256.2 1667.3,1258.8 1667.7,1261.3 1668.2,1263.9 1668.6,1266.4 1669,1269 1669.5,1271.6 1669.9,1274.1 1670.4,1276.7 1670.8,1279.2 1671.2,1281.7 1671.7,1284.3 1672.1,1286.8 1672.6,1289.3 1673,1291.9 1673.5,1294.4 1673.9,1297 1674.3,1299.5 1674.8,1302 1675.2,1304.5 1675.7,1307 1676.1,1309.5 1676.6,1311.9 1677.1,1314.6 1677.6,1317.3 1678.2,1319.9 1678.7,1322.5 1679.2,1325.2 1679.7,1327.8 1680.3,1330.4 1680.8,1333 1681.3,1335.6 1681.9,1338.2 1682.4,1340.8 1682.9,1343.4 1683.5,1346.1 1684,1348.7 1684.5,1351.4 1685,1354.1 1685.5,1356.7 1686.1,1359.3 1686.6,1362 1687.1,1364.6 1687.7,1367.2 1688.2,1369.7 1688.7,1372.3 1689.2,1374.9 1689.7,1377.5 1690.2,1380 1690.7,1382.5 1691.3,1385.1 1691.8,1387.5 1692.5,1390 1693.1,1392.4 1693.9,1394.8 1694.8,1397.3 1695.7,1399.8 1696.6,1402.2 1697.7,1404.7 1698.7,1407.1 1699.9,1409.4 1701,1411.7 1702.3,1413.9 1703.6,1416 1705,1418.2 1706.6,1420.4 1708.1,1422.5 1709.8,1424.5 1711.5,1426.5 1713.3,1428.3 1715.1,1429.9 1717.1,1431.4 1719.4,1432.8 1721.9,1433.9 1724.4,1434.8 1727.1,1435.6 1729.7,1436.3 1732.4,1436.9 1735,1437.5 1737.4,1438 1739.8,1438.4 1742.1,1438.7 1744.4,1438.9 1746.9,1439.1 1749.6,1439.4 1752.6,1439.6 1754.7,1439.8 1756.8,1440 1759.1,1440.1 1761.5,1440.3 1764,1440.5 1766.6,1440.7 1769.3,1440.9 1772,1441.1 1774.7,1441.2 1777.5,1441.4 1780.3,1441.6 1783.2,1441.7 1786,1441.9 1788.9,1442 1791.7,1442.1 1794.5,1442.2 1797.3,1442.2 1800,1442.3 1802.7,1442.3 1805.6,1442.3 1808.7,1442.3 1811.9,1442.3 1815.3,1442.2 1818.7,1442.1 1822.2,1442.1 1825.6,1442 1829,1441.9 1832.3,1441.8 1835.5,1441.6 1838.6,1441.5 1841.4,1441.4 1844,1441.3 1846.3,1441.2 1848.2,1441.2 1849.8,1441.1 1851,1441 1851.7,1441 1852,1441" fill="none" stroke="#008000" stroke-width="3.2" stroke-linejoin="round" stroke-linecap="butt" />
<polyline points="1494.7,1437 1495,1437 1495.8,1437 1497.1,1436.9 1498.8,1436.9 1500.9,1436.8 1503.3,1436.7 1506.1,1436.6 1509,1436.5 1512.2,1436.4 1515.4,1436.2 1518.8,1436 1522.2,1435.8 1525.6,1435.6 1528.9,1435.4 1532.1,1435.1 1535.2,1434.9 1538,1434.6 1540.6,1434.2 1542.9,1433.9 1545.8,1433.4 1548.7,1433 1551.5,1432.5 1554.2,1432 1556.8,1431.5 1559.3,1430.8 1561.6,1430.1 1563.9,1429.2 1566,1428.2 1568,1427 1570,1425.5 1571.8,1423.8 1573.4,1421.9 1574.9,1419.9 1576.3,1417.8 1577.6,1415.6 1578.8,1413.3 1580,1410.9 1581,1408.7 1581.8,1406.3 1582.5,1403.9 1583.2,1401.3 1583.8,1398.7 1584.3,1396 1584.9,1393.3 1585.4,1390.6 1586,1387.9 1586.7,1385.4 1587.4,1382.9 1588.2,1380.4 1589.1,1378 1590,1375.6 1590.9,1373.2 1591.8,1370.8 1592.7,1368.5 1593.7,1366.1 1594.5,1363.9 1595.4,1361.6 1596.2,1359.4 1597.1,1356.7 1597.9,1354.1 1598.7,1351.5 1599.5,1348.9 1600.3,1346.5 1601.1,1344 1602.1,1341.7 1603.2,1339.3 1604.4,1336.8 1605.6,1334.4 1606.9,1332.2 1608.2,1330.2 1609.5,1328.4 1612.3,1325.5 1615,1323.5 1616.7,1322.7 1618.3,1322.5 1620.5,1324.1 1622.7,1327 1623.9,1328.9 1625.1,1331.1 1626.3,1333.6 1627.5,1336.1 1628.6,1338.7 1629.6,1341.2 1630.7,1343.8 1631.6,1346.5 1632.6,1349.2 1633.6,1352 1634.5,1354.9 1635.3,1357.4 1636.1,1359.9 1636.8,1362.5 1637.6,1365.2 1638.3,1367.8 1639,1370.5 1639.7,1373.1 1640.4,1375.6 1641.1,1378.2 1641.7,1380.8 1642.3,1383.3 1642.8,1385.9 1643.4,1388.3 1644.1,1390.8 1644.8,1393.2 1645.7,1395.8 1646.6,1398.3 1647.6,1400.7 1648.6,1403.2 1649.6,1405.6 1650.7,1408 1651.8,1410.5 1653,1412.9 1654.2,1415.4 1655.4,1417.9 1656.7,1420.3 1658.1,1422.7 1659.4,1424.9 1660.7,1427.2 1662.1,1429.4 1663.5,1431.6 1665,1433.7 1666.6,1435.7 1668.4,1437.4 1670.6,1439.1 1672.9,1440.6 1675.3,1441.9 1677.9,1443 1680.5,1444 1683.1,1444.8 1685.7,1445.4 1688.4,1445.7 1691.1,1445.9 1693.9,1446 1696.9,1446.1 1700,1446.3 1702.2,1446.5 1704.4,1446.7 1706.6,1446.8 1708.9,1447 1711.3,1447.2 1713.7,1447.4 1716.2,1447.6 1718.8,1447.8 1721.4,1447.9 1724.2,1448.1 1727,1448.2 1730,1448.3 1732,1448.4 1734.1,1448.4 1736.3,1448.4 1738.6,1448.5 1740.9,1448.5 1743.3,1448.5 1745.7,1448.5 1748.2,1448.5 1750.7,1448.6 1753.3,1448.6 1755.9,1448.5 1758.5,1448.5 1761.2,1448.5 1763.8,1448.5 1766.5,1448.5 1769.2,1448.4 1771.9,1448.4 1774.6,1448.3 1777.3,1448.3 1779.9,1448.2 1782.6,1448.1 1785.2,1448.1 1787.7,1448 1790.3,1447.9 1792.8,1447.8 1795.3,1447.7 1797.7,1447.6 1800,1447.5 1802.7,1447.4 1805.4,1447.2 1808,1447 1810.5,1446.9 1813,1446.7 1815.5,1446.5 1817.9,1446.2 1820.3,1446 1822.7,1445.8 1825.1,1445.6 1827.5,1445.3 1830,1445.1 1832.5,1444.8 1835,1444.6 1837.6,1444.3 1840.3,1444.1 1843.1,1443.8 1845.9,1443.5 1848.9,1443.3 1852,1443 1854,1442.8 1856,1442.7 1858.1,1442.5 1860.2,1442.3 1862.3,1442.1 1864.5,1441.9 1866.7,1441.8 1869,1441.6 1871.3,1441.4 1873.6,1441.2 1876,1441 1878.4,1440.8 1880.8,1440.6 1883.2,1440.4 1885.7,1440.2 1888.2,1439.9 1890.7,1439.7 1893.2,1439.5 1895.8,1439.3 1898.3,1439.1 1900.9,1438.9 1903.5,1438.6 1906.1,1438.4 1908.8,1438.2 1911.4,1438 1914.1,1437.8 1916.7,1437.6 1919.4,1437.3 1922,1437.1 1924.7,1436.9 1927.4,1436.7 1930.1,1436.5 1932.8,1436.3 1935.4,1436 1938.1,1435.8 1940.8,1435.6 1943.4,1435.4 1946.1,1435.2 1948.7,1435 1951.4,1434.8 1954,1434.6 1956.6,1434.4 1959.2,1434.2 1961.8,1434 1964.3,1433.9 1966.9,1433.7 1969.4,1433.5 1971.9,1433.3 1974.3,1433.2 1976.8,1433 1979.4,1432.8 1982,1432.7 1984.5,1432.5 1987.1,1432.3 1989.7,1432.2 1992.3,1432 1994.8,1431.9 1997.4,1431.7 2000,1431.6 2002.5,1431.4 2005.1,1431.3 2007.7,1431.1 2010.2,1431 2012.8,1430.9 2015.3,1430.7 2017.9,1430.6 2020.4,1430.5 2023,1430.3 2025.5,1430.2 2028.1,1430.1 2030.6,1429.9 2033.1,1429.8 2035.7,1429.7 2038.2,1429.6 2040.7,1429.4 2043.2,1429.3 2045.8,1429.2 2048.3,1429.1 2050.8,1428.9 2053.3,1428.8 2055.8,1428.7 2058.3,1428.6 2060.8,1428.5 2063.2,1428.3 2065.7,1428.2 2068.2,1428.1 2070.7,1428 2073.1,1427.9 2075.6,1427.7 2078,1427.6 2080.5,1427.5 2082.9,1427.4 2085.4,1427.3 2087.8,1427.1 2090.2,1427 2092.9,1426.9 2095.7,1426.7 2098.6,1426.6 2101.6,1426.4 2104.7,1426.2 2107.9,1426.1 2111.1,1425.9 2114.4,1425.7 2117.7,1425.6 2121,1425.4 2124.4,1425.2 2127.8,1425 2131.2,1424.9 2134.6,1424.7 2137.9,1424.5 2141.2,1424.3 2144.5,1424.2 2147.8,1424 2150.9,1423.8 2154,1423.7 2157.1,1423.5 2160,1423.4 2162.9,1423.2 2165.6,1423.1 2168.2,1423 2170.7,1422.8 2173,1422.7 2175.2,1422.6 2177.2,1422.5 2179.1,1422.4 2180.8,1422.3 2182.3,1422.2 2183.5,1422.2 2184.6,1422.1 2185.5,1422.1 2186.1,1422 2186.5,1422 2186.6,1422" fill="none" stroke="#ff00ff" stroke-width="3.2" stroke-linejoin="round" stroke-linecap="butt" />
<polyline points="1494.7,1439.1 1495,1439.1 1495.8,1439 1497,1439 1498.7,1438.8 1500.8,1438.7 1503.2,1438.6 1505.9,1438.4 1508.8,1438.2 1511.9,1438 1515.1,1437.9 1518.4,1437.7 1521.8,1437.5 1525.1,1437.3 1528.4,1437.1 1531.6,1436.9 1534.6,1436.8 1537.4,1436.6 1540,1436.5 1542.6,1436.4 1545.2,1436.3 1547.8,1436.1 1550.4,1436 1553.1,1435.9 1555.7,1435.8 1558.3,1435.7 1560.9,1435.6 1563.4,1435.5 1566,1435.4 1568.5,1435.4 1570.9,1435.3 1573.3,1435.3 1575.6,1435.2 1577.8,1435.2 1580,1435.2 1583.1,1435.2 1586,1435.2 1588.8,1435.3 1591.5,1435.4 1594.1,1435.5 1596.7,1435.6 1599.4,1435.8 1602.1,1436 1604.9,1436.3 1607.7,1436.5 1610.4,1436.9 1613.2,1437.2 1616,1437.6 1618.7,1438 1621.5,1438.4 1624.2,1438.9 1626.8,1439.4 1629.4,1439.9 1631.9,1440.5 1634.5,1441.1 1637,1441.7 1639.6,1442.3 1642.2,1442.8 1644.8,1443.3 1647.3,1443.7 1649.9,1444.1 1652.4,1444.5 1655,1444.9 1657.6,1445.2 1660.2,1445.5 1662.9,1445.8 1665.6,1446.1 1668.4,1446.3 1670.8,1446.5 1673.3,1446.6 1675.8,1446.7 1678.3,1446.7 1680.8,1446.8 1683.4,1446.8 1686,1446.8 1688.7,1446.8 1691.4,1446.9 1694.2,1446.9 1697.1,1446.9 1700,1447 1702.2,1447.1 1704.5,1447.1 1706.8,1447.2 1709.2,1447.3 1711.7,1447.4 1714.1,1447.5 1716.6,1447.6 1719.2,1447.7 1721.8,1447.8 1724.3,1447.9 1726.9,1448 1729.6,1448.1 1732.2,1448.2 1734.8,1448.2 1737.4,1448.3 1740,1448.4 1742.6,1448.4 1745.1,1448.5 1747.6,1448.5 1750.1,1448.5 1752.6,1448.5 1755.3,1448.5 1758,1448.4 1760.6,1448.4 1763.3,1448.3 1765.9,1448.2 1768.5,1448.1 1771.1,1448 1773.7,1447.9 1776.3,1447.8 1778.9,1447.7 1781.5,1447.5 1784.1,1447.4 1786.7,1447.2 1789.4,1447.1 1792,1446.9 1794.7,1446.8 1797.3,1446.6 1800,1446.5 1802.5,1446.4 1805,1446.2 1807.5,1446.1 1809.9,1445.9 1812.3,1445.8 1814.7,1445.6 1817.1,1445.5 1819.6,1445.3 1822,1445.1 1824.5,1445 1826.9,1444.8 1829.5,1444.6 1832.1,1444.4 1834.7,1444.2 1837.4,1444.1 1840.1,1443.9 1843,1443.7 1845.9,1443.4 1848.9,1443.2 1852,1443 1854,1442.9 1856,1442.7 1858.1,1442.6 1860.2,1442.4 1862.3,1442.2 1864.5,1442.1 1866.7,1441.9 1869,1441.7 1871.3,1441.5 1873.6,1441.4 1876,1441.2 1878.4,1441 1880.8,1440.8 1883.2,1440.6 1885.7,1440.4 1888.2,1440.2 1890.7,1440 1893.2,1439.8 1895.8,1439.6 1898.3,1439.4 1900.9,1439.2 1903.5,1439 1906.1,1438.8 1908.8,1438.6 1911.4,1438.4 1914.1,1438.1 1916.7,1437.9 1919.4,1437.7 1922.1,1437.5 1924.7,1437.3 1927.4,1437.1 1930.1,1436.9 1932.8,1436.7 1935.4,1436.5 1938.1,1436.3 1940.8,1436.1 1943.4,1435.9 1946.1,1435.7 1948.7,1435.5 1951.4,1435.3 1954,1435.1 1956.6,1434.9 1959.2,1434.7 1961.8,1434.5 1964.3,1434.3 1966.9,1434.2 1969.4,1434 1971.9,1433.8 1974.4,1433.7 1976.8,1433.5 1979.4,1433.3 1982,1433.2 1984.5,1433 1987.1,1432.9 1989.7,1432.7 1992.3,1432.5 1994.8,1432.4 1997.4,1432.2 2000,1432.1 2002.5,1432 2005.1,1431.8 2007.7,1431.7 2010.2,1431.5 2012.8,1431.4 2015.3,1431.3 2017.9,1431.1 2020.4,1431 2023,1430.9 2025.5,1430.7 2028.1,1430.6 2030.6,1430.5 2033.1,1430.3 2035.7,1430.2 2038.2,1430.1 2040.7,1430 2043.2,1429.8 2045.8,1429.7 2048.3,1429.6 2050.8,1429.5 2053.3,1429.3 2055.8,1429.2 2058.3,1429.1 2060.8,1429 2063.2,1428.9 2065.7,1428.7 2068.2,1428.6 2070.7,1428.5 2073.1,1428.4 2075.6,1428.2 2078,1428.1 2080.5,1428 2082.9,1427.9 2085.4,1427.8 2087.8,1427.6 2090.2,1427.5 2092.9,1427.4 2095.7,1427.2 2098.6,1427.1 2101.6,1426.9 2104.7,1426.7 2107.9,1426.6 2111.1,1426.4 2114.4,1426.2 2117.7,1426.1 2121,1425.9 2124.4,1425.7 2127.8,1425.5 2131.2,1425.4 2134.6,1425.2 2137.9,1425 2141.2,1424.8 2144.5,1424.7 2147.8,1424.5 2150.9,1424.3 2154,1424.2 2157.1,1424 2160,1423.9 2162.9,1423.7 2165.6,1423.6 2168.2,1423.5 2170.7,1423.3 2173,1423.2 2175.2,1423.1 2177.2,1423 2179.1,1422.9 2180.8,1422.8 2182.3,1422.7 2183.5,1422.7 2184.6,1422.6 2185.5,1422.6 2186.1,1422.5 2186.5,1422.5 2186.6,1422.5" fill="none" stroke="#0000ff" stroke-width="3.2" stroke-linejoin="round" stroke-linecap="butt" />
<polyline points="1494.7,1438.1 1495,1438.1 1495.7,1438 1497,1437.9 1498.6,1437.7 1500.7,1437.5 1503,1437.3 1505.6,1437 1508.5,1436.8 1511.6,1436.5 1514.8,1436.2 1518.1,1435.9 1521.5,1435.6 1524.9,1435.3 1528.2,1435 1531.5,1434.7 1534.6,1434.5 1537.6,1434.2 1540.4,1434.1 1542.9,1433.9 1545.7,1433.8 1548.5,1433.7 1551.3,1433.6 1554.1,1433.6 1556.9,1433.6 1559.6,1433.6 1562.4,1433.6 1565,1433.6 1567.7,1433.6 1570.3,1433.6 1572.8,1433.5 1575.3,1433.4 1577.7,1433.2 1580,1433 1582.7,1432.7 1585.4,1432.3 1588,1431.9 1590.5,1431.4 1592.9,1430.9 1595.3,1430.4 1597.6,1429.8 1599.9,1429.2 1602.1,1428.6 1604.8,1427.8 1607.3,1426.9 1609.7,1425.9 1612.1,1424.9 1614.4,1423.9 1616.8,1422.7 1619.3,1421.4 1621.9,1420.1 1624.5,1418.6 1627,1417.1 1629.4,1415.5 1631.5,1413.9 1633.4,1412.2 1635.1,1410.4 1636.7,1408.5 1638.3,1406.5 1640,1404.4 1641.6,1402.4 1643.2,1400.3 1644.8,1398.1 1646.5,1395.8 1648.1,1393.5 1649.9,1391.2 1651.6,1389 1653.2,1387 1654.7,1384.9 1656.3,1382.8 1657.9,1380.7 1659.6,1378.7 1661.3,1376.8 1663.1,1375.1 1665,1373.6 1667.2,1372.1 1669.5,1370.7 1672,1369.5 1674.4,1368.4 1676.9,1367.6 1679.2,1367.1 1681.4,1366.9 1684.3,1367.4 1686.9,1368.5 1689.5,1370 1692,1371.7 1694.1,1373.3 1696.1,1375.1 1698,1377.1 1699.8,1379.1 1701.7,1381.3 1703.4,1383.4 1705,1385.6 1706.6,1387.9 1708.1,1390.2 1709.7,1392.5 1711.3,1394.8 1712.9,1397.1 1714.4,1399.4 1716,1401.7 1717.5,1403.9 1719.2,1406.2 1720.9,1408.3 1722.7,1410.3 1724.5,1412.3 1726.4,1414.2 1728.4,1416.1 1730.4,1418 1732.5,1419.8 1734.6,1421.5 1736.7,1423.3 1739,1425.1 1741.2,1426.8 1743.5,1428.5 1745.7,1430 1747.9,1431.4 1750.2,1432.9 1752.4,1434.2 1754.6,1435.4 1757.1,1436.5 1760,1437.5 1761.8,1438 1763.8,1438.5 1765.9,1438.9 1768.2,1439.3 1770.5,1439.7 1773,1440 1775.5,1440.3 1778.2,1440.6 1780.8,1440.8 1783.5,1441.1 1786.3,1441.3 1789.1,1441.5 1791.8,1441.6 1794.6,1441.8 1797.3,1441.9 1800,1442 1802.4,1442.1 1804.8,1442.1 1807.2,1442.1 1809.6,1442.1 1812,1442.1 1814.4,1442 1816.8,1442 1819.2,1441.9 1821.7,1441.8 1824.2,1441.6 1826.7,1441.5 1829.3,1441.3 1831.9,1441.2 1834.5,1441 1837.3,1440.9 1840.1,1440.7 1842.9,1440.5 1845.9,1440.3 1848.9,1440.2 1852,1440 1854,1439.9 1856,1439.8 1858.1,1439.7 1860.2,1439.6 1862.3,1439.4 1864.5,1439.3 1866.7,1439.2 1869,1439 1871.3,1438.9 1873.6,1438.7 1876,1438.6 1878.4,1438.4 1880.8,1438.3 1883.2,1438.1 1885.7,1438 1888.2,1437.8 1890.7,1437.6 1893.2,1437.5 1895.8,1437.3 1898.3,1437.1 1900.9,1436.9 1903.5,1436.8 1906.1,1436.6 1908.8,1436.4 1911.4,1436.2 1914.1,1436 1916.7,1435.9 1919.4,1435.7 1922.1,1435.5 1924.7,1435.3 1927.4,1435.1 1930.1,1435 1932.8,1434.8 1935.4,1434.6 1938.1,1434.4 1940.8,1434.2 1943.4,1434.1 1946.1,1433.9 1948.7,1433.7 1951.4,1433.5 1954,1433.4 1956.6,1433.2 1959.2,1433.1 1961.8,1432.9 1964.3,1432.7 1966.9,1432.6 1969.4,1432.4 1971.9,1432.3 1974.4,1432.1 1976.8,1432 1979.4,1431.9 1982,1431.7 1984.5,1431.6 1987.1,1431.4 1989.7,1431.3 1992.3,1431.2 1994.8,1431 1997.4,1430.9 2000,1430.8 2002.5,1430.6 2005.1,1430.5 2007.7,1430.4 2010.2,1430.2 2012.8,1430.1 2015.3,1430 2017.9,1429.9 2020.4,1429.8 2023,1429.6 2025.5,1429.5 2028.1,1429.4 2030.6,1429.3 2033.1,1429.2 2035.7,1429 2038.2,1428.9 2040.7,1428.8 2043.2,1428.7 2045.8,1428.6 2048.3,1428.5 2050.8,1428.3 2053.3,1428.2 2055.8,1428.1 2058.3,1428 2060.8,1427.9 2063.2,1427.8 2065.7,1427.7 2068.2,1427.5 2070.7,1427.4 2073.1,1427.3 2075.6,1427.2 2078,1427.1 2080.5,1427 2082.9,1426.9 2085.4,1426.7 2087.8,1426.6 2090.2,1426.5 2092.9,1426.4 2095.7,1426.2 2098.6,1426.1 2101.6,1425.9 2104.7,1425.8 2107.9,1425.6 2111.1,1425.5 2114.4,1425.3 2117.7,1425.2 2121,1425 2124.4,1424.8 2127.8,1424.7 2131.2,1424.5 2134.6,1424.3 2137.9,1424.2 2141.2,1424 2144.5,1423.9 2147.8,1423.7 2150.9,1423.5 2154,1423.4 2157.1,1423.2 2160,1423.1 2162.9,1423 2165.6,1422.8 2168.2,1422.7 2170.7,1422.6 2173,1422.5 2175.2,1422.4 2177.2,1422.3 2179.1,1422.2 2180.8,1422.1 2182.3,1422 2183.5,1421.9 2184.6,1421.9 2185.5,1421.9 2186.1,1421.8 2186.5,1421.8 2186.6,1421.8" fill="none" stroke="#000080" stroke-width="4" stroke-linejoin="round" stroke-linecap="butt" />
<polyline points="1374.9,1720.3 1375.2,1720.5 1375.9,1720.7 1377.2,1721.6 1378.8,1720.9 1380.9,1721.2 1383.2,1720.2 1385.9,1720.8 1388.7,1721.2 1391.8,1720.7 1395,1721.3 1398.4,1721.1 1401.8,1720.2 1405.2,1719.5 1408.6,1720.7 1411.9,1719.6 1415.2,1719.4 1418.2,1720.5 1421.1,1720.6 1423.7,1720.5 1426.3,1720.7 1428.8,1719.4 1431.3,1719.2 1433.7,1719.3 1436.1,1720.6 1438.5,1719.2 1440.9,1719.3 1443.4,1719 1445.8,1719 1448.2,1719 1450.6,1719.5 1453.1,1719.2 1455.6,1719.4 1458.2,1720.3 1460.8,1719.1 1463.5,1720.1 1466.2,1719.9 1468.5,1719.6 1470.9,1719.5 1473.4,1719.8 1476,1719.5 1478.7,1718.9 1481.5,1719.1 1484.2,1718.9 1487.1,1719.1 1489.9,1720.1 1492.8,1719.1 1495.7,1718.5 1498.6,1719.2 1501.4,1719.7 1504.2,1719 1507,1719.4 1509.8,1718.4 1512.5,1718.3 1515.1,1719.2 1517.6,1718.1 1520,1718.4 1522.4,1718.4 1524.6,1718 1526.6,1717.6 1528.6,1717.4 1530.4,1718.7 1532,1718.1 1535.2,1718 1537.8,1716.6 1540,1716.7 1542.3,1715.9 1544.8,1714.9 1547.5,1714.3 1550.4,1713.9 1553.4,1713.1 1556.4,1712.9 1559.2,1712.8 1561.7,1711 1564.1,1710.7 1566.3,1708.5 1568.3,1706.8 1570.3,1705.3 1572.4,1703.2 1574.6,1700.8 1576.7,1699.4 1578.9,1697.5 1581,1695.8 1583,1695.2 1584.5,1692.9 1585.9,1691.6 1587.3,1689.2 1588.6,1686.3 1589.9,1685.1 1591.2,1682.7 1592.4,1679.7 1593.6,1676.8 1594.8,1674.9 1595.9,1672.3 1597,1670.1 1598.1,1667.2 1599.1,1665.8 1600.1,1663.8 1601.1,1660.2 1602.1,1658.8 1603.2,1656 1604.3,1653.4 1605.4,1651.7 1606.5,1648.4 1607.5,1646.6 1608.5,1642.8 1609.4,1641.8 1610.2,1637.9 1611.1,1634.9 1611.9,1633.5 1612.7,1630.5 1613.4,1627.7 1614.1,1625.2 1614.8,1622.1 1615.4,1619.1 1615.9,1616.9 1616.3,1615.6 1616.8,1613.2 1617.3,1609.6 1618,1607.3 1618.8,1604.9 1619.6,1603.1 1620.6,1599 1621.6,1597.7 1622.6,1594.1 1623.7,1591.9 1624.6,1588.4 1625.5,1585.5 1626.2,1584.5 1626.8,1581.4 1627.4,1579.7 1627.9,1577 1628.5,1574.3 1629,1570.6 1629.6,1568.9 1630.1,1566.9 1630.7,1563.6 1631.2,1560.4 1631.8,1558.1 1632.4,1556.8 1633,1554.1 1633.6,1550.2 1634.2,1547.7 1634.9,1545.7 1635.5,1542.7 1636.1,1539.7 1636.8,1538.5 1637.5,1535.5 1638.2,1532.9 1639.1,1529.5 1640.1,1527.7 1641,1525.5 1642.1,1522.2 1643.2,1519.7 1644.6,1518.6 1646.4,1516.2 1648.6,1512.6 1650.8,1510.2 1653,1508.6 1655.2,1507.6 1657.4,1507.5 1659.5,1509.2 1661.6,1511.2 1663.7,1513.5 1665.2,1515.2 1666.6,1517.7 1668.1,1519.8 1669.5,1523.2 1670.9,1525 1672.1,1528.6 1673.3,1531 1674.3,1532.7 1675.1,1535.1 1675.7,1538.3 1676.2,1540.7 1676.6,1543.5 1677,1545.5 1677.4,1548.8 1677.9,1551.9 1678.5,1554.2 1679.1,1556.3 1679.8,1559.8 1680.6,1561.3 1681.4,1564.9 1682.2,1567 1683,1568.4 1683.9,1571.7 1684.7,1573.8 1685.5,1577.3 1686.3,1579.3 1687,1581.2 1687.7,1585.2 1688.4,1587.6 1689,1589.9 1689.7,1592.4 1690.3,1594.2 1690.9,1598.2 1691.5,1599.6 1692.1,1602.5 1692.7,1604.9 1693.4,1607.4 1694.2,1609.4 1695,1613.4 1695.7,1615.3 1696.5,1617.7 1697.4,1621 1698.2,1623.6 1699,1626.2 1699.8,1629.4 1700.4,1630.8 1701,1632.9 1701.6,1635.8 1702.2,1638.8 1702.8,1641.8 1703.4,1644.4 1704,1647 1704.6,1649.7 1705.3,1652.5 1706,1655 1706.7,1656.8 1707.5,1660.2 1708.3,1662.2 1709.2,1664.4 1710.1,1667.7 1711,1670.6 1711.9,1672.1 1712.9,1675.2 1713.9,1677.5 1714.9,1680 1716,1682.6 1717.2,1684.5 1718.4,1685.6 1719.7,1688.5 1721,1690 1722.6,1692.1 1724.4,1694.5 1726.2,1695.5 1728.2,1697.9 1730.1,1700 1732.1,1700.2 1734.1,1702.9 1736.1,1704.1 1738,1704.9 1740.4,1707.2 1742.6,1707.8 1744.8,1709.4 1747.2,1712.1 1749.8,1712.7 1752.9,1713.1 1754.8,1713.5 1756.9,1714.4 1759.1,1714.9 1761.4,1715.9 1763.9,1714.9 1766.4,1715.8 1769.1,1715.6 1771.8,1715.8 1774.5,1716.5 1777.3,1715.2 1780.2,1716.4 1783,1716.2 1785.9,1715.5 1788.8,1715.3 1791.7,1716.3 1794.5,1716.5 1797.3,1715.8 1800,1715.5 1802.4,1716.3 1804.9,1716.6 1807.3,1716.2 1809.7,1716.4 1812,1716 1814.4,1716.2 1816.8,1716.4 1819.2,1717.4 1821.6,1716.5 1824,1716.7 1826.4,1717.2 1828.9,1716.9 1831.4,1717 1833.9,1717.9 1836.5,1717.2 1839.2,1717.7 1841.9,1717 1844.6,1717.8 1847.4,1718.1 1850.3,1717.7 1853.3,1717.3 1855.4,1717 1857.5,1717.4 1859.6,1717.6 1861.8,1717.1 1864,1717.6 1866.3,1717.8 1868.6,1717 1870.9,1717.9 1873.3,1718.4 1875.6,1717.9 1878.1,1717.5 1880.5,1718.1 1883,1718.2 1885.4,1718.2 1887.9,1718.1 1890.5,1717.7 1893,1718 1895.6,1717.6 1898.2,1716.9 1900.8,1716.5 1903.4,1717 1906,1717.2 1908.6,1716.5 1911.3,1716.5 1913.9,1716 1916.6,1715.8 1919.3,1716.1 1921.9,1717 1924.6,1715.6 1927.3,1715.6 1930,1715.9 1932.6,1716.7 1935.3,1715.4 1938,1715.1 1940.6,1715 1943.3,1715.3 1945.9,1714.7 1948.6,1715.6 1951.2,1714.5 1953.8,1714.6 1956.4,1714.3 1959,1714.5 1961.5,1714.1 1964.1,1714.1 1966.6,1714 1969.1,1713.9 1971.7,1714.4 1974.2,1713.9 1976.7,1713.5 1979.3,1713 1981.8,1714.2 1984.4,1714 1987,1714 1989.5,1713.4 1992.1,1712.8 1994.7,1712.5 1997.3,1712 1999.8,1712.2 2002.4,1712 2005,1712.6 2007.6,1711.3 2010.2,1711.9 2012.8,1711.7 2015.3,1711.4 2017.9,1711.1 2020.5,1710 2023.1,1709.9 2025.6,1710.3 2028.2,1710.2 2030.7,1710.6 2033.3,1710.1 2035.8,1709 2038.4,1708.7 2040.9,1709.5 2043.4,1708.1 2045.9,1709.3 2048.4,1707.8 2050.9,1708.4 2053.4,1708.7 2055.9,1707.3 2058.3,1707.1 2060.8,1707.8 2063.2,1707.8 2065.6,1706.5 2068,1707.1 2070.4,1707.5 2072.8,1707.3 2075.1,1706.6 2077.5,1705.8 2079.8,1706.7 2082.6,1706.4 2085.6,1706.1 2088.7,1706.3 2091.8,1706.2 2095,1705.9 2098.3,1705.9 2101.7,1705.8 2105.1,1706.1 2108.5,1706.1 2111.9,1704.7 2115.4,1705.9 2118.8,1705 2122.1,1705.2 2125.5,1704.8 2128.7,1704.9 2131.9,1705 2135,1705 2138,1704.4 2140.9,1704.7 2143.7,1704.9 2146.3,1704.8 2148.8,1705 2151.1,1704.2 2153.2,1705 2155.1,1705.5 2156.9,1705.2 2158.3,1704.9 2159.6,1705.3 2160.6,1704.6 2161.3,1704.3 2161.7,1705 2161.9,1704.4" fill="none" stroke="#808080" stroke-width="4" stroke-linejoin="round" stroke-linecap="butt" />
<line x1="1645.6" y1="1065.1" x2="1645.6" y2="1719" stroke="#000" stroke-width="2.3" stroke-dasharray="6,5.4"/>
<line x1="1659.4" y1="1497" x2="1659.4" y2="1719" stroke="#000" stroke-width="2.3" stroke-dasharray="6,5.4"/>
<line x1="1585" y1="1082.1" x2="1639.8" y2="1082.1" stroke="#808080" stroke-width="2.3" />
<polygon points="1570.3,1082.1 1589.6,1076.8 1589.6,1087.4" fill="#808080"/>
<line x1="1660" y1="1276.9" x2="1707.4" y2="1276.9" stroke="#008000" stroke-width="2.5" />
<polygon points="1645,1276.9 1665,1271.4 1665,1282.4" fill="#008000"/>
<text x="1715.1" y="1289.8" font-size="37.7" fill="#008a2e" text-anchor="start" font-weight="normal" textLength="50.4" lengthAdjust="spacingAndGlyphs" >OH</text>
<line x1="1538.7" y1="1383.6" x2="1588" y2="1383.6" stroke="#ff00ff" stroke-width="2.5" />
<polygon points="1600.6,1383.6 1582.7,1378.3 1582.7,1388.9" fill="#ff00ff"/>
<text x="1474" y="1389.9" font-size="37.7" fill="#ff00ff" text-anchor="start" font-weight="normal" textLength="55.5" lengthAdjust="spacingAndGlyphs" >OM</text>
<line x1="1716" y1="1410.6" x2="1768.3" y2="1410.6" stroke="#000080" stroke-width="2.5" />
<polygon points="1704.4,1410.6 1723,1405.3 1723,1415.9" fill="#000080"/>
<text x="1773.8" y="1416.3" font-size="37.7" fill="#1a1a9a" text-anchor="start" font-weight="normal" textLength="48.8" lengthAdjust="spacingAndGlyphs" >OH</text>
<text x="1826" y="1430.4" font-size="18" fill="#1a1a9a" text-anchor="start" font-weight="normal" textLength="9.7" lengthAdjust="spacingAndGlyphs" >2</text>
<text x="1968.9" y="1479.8" font-size="39" fill="#000" text-anchor="start" font-weight="normal" textLength="237" lengthAdjust="spacingAndGlyphs" >CV treated GR</text>
<text x="1958.1" y="1756.3" font-size="37.4" fill="#808080" text-anchor="start" font-weight="normal" textLength="189.6" lengthAdjust="spacingAndGlyphs" >Original GR</text>
</svg>
</body></html>
